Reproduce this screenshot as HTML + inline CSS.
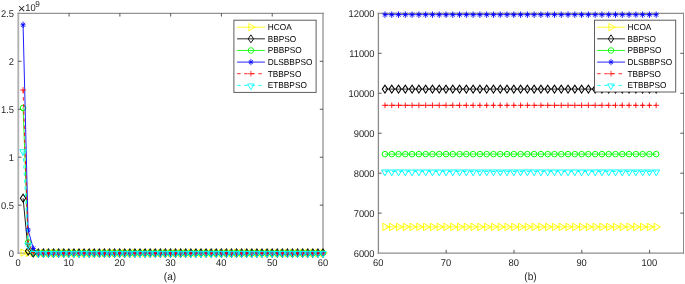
<!DOCTYPE html>
<html><head><meta charset="utf-8"><title>figure</title>
<style>html,body{margin:0;padding:0;background:#fff}svg{display:block}svg text{font-family:"Liberation Sans",sans-serif}</style></head>
<body>
<svg width="685" height="284" viewBox="0 0 685 284" text-rendering="geometricPrecision">
<rect width="685" height="284" fill="#fff"/>
<path d="M18.3 12.7V253.75" stroke="#b0b0b0" stroke-width="1.8" fill="none"/>
<path d="M323.0 12.7V253.75" stroke="#b0b0b0" stroke-width="1.8" fill="none"/>
<path d="M17.400000000000002 13.35H323.9" stroke="#949494" stroke-width="1.3" fill="none"/>
<path d="M17.400000000000002 253.1H323.9" stroke="#949494" stroke-width="1.3" fill="none"/>
<path d="M69.08 253.1v-3.2M69.08 13.35v3.2M119.87 253.1v-3.2M119.87 13.35v3.2M170.65 253.1v-3.2M170.65 13.35v3.2M221.43 253.1v-3.2M221.43 13.35v3.2M272.22 253.1v-3.2M272.22 13.35v3.2M18.3 205.15h3.2M323.0 205.15h-3.2M18.3 157.20h3.2M323.0 157.20h-3.2M18.3 109.25h3.2M323.0 109.25h-3.2M18.3 61.30h3.2M323.0 61.30h-3.2" stroke="#3a3a3a" stroke-width="0.85" fill="none"/>
<text transform="translate(18.00 266.25) scale(0.955 1)" font-size="9.8" text-anchor="middle" fill="#262626">0</text>
<text transform="translate(68.83 266.25) scale(0.955 1)" font-size="9.8" text-anchor="middle" fill="#262626">10</text>
<text transform="translate(119.67 266.25) scale(0.955 1)" font-size="9.8" text-anchor="middle" fill="#262626">20</text>
<text transform="translate(170.50 266.25) scale(0.955 1)" font-size="9.8" text-anchor="middle" fill="#262626">30</text>
<text transform="translate(221.33 266.25) scale(0.955 1)" font-size="9.8" text-anchor="middle" fill="#262626">40</text>
<text transform="translate(272.17 266.25) scale(0.955 1)" font-size="9.8" text-anchor="middle" fill="#262626">50</text>
<text transform="translate(323.00 266.25) scale(0.955 1)" font-size="9.8" text-anchor="middle" fill="#262626">60</text>
<text transform="translate(14.00 256.50) scale(0.955 1)" font-size="9.8" text-anchor="end" fill="#262626">0</text>
<text transform="translate(14.00 208.50) scale(0.955 1)" font-size="9.8" text-anchor="end" fill="#262626">0.5</text>
<text transform="translate(14.00 160.50) scale(0.955 1)" font-size="9.8" text-anchor="end" fill="#262626">1</text>
<text transform="translate(14.00 112.50) scale(0.955 1)" font-size="9.8" text-anchor="end" fill="#262626">1.5</text>
<text transform="translate(14.00 64.50) scale(0.955 1)" font-size="9.8" text-anchor="end" fill="#262626">2</text>
<text transform="translate(14.00 16.50) scale(0.955 1)" font-size="9.8" text-anchor="end" fill="#262626">2.5</text>
<text transform="translate(17.80 12.90) scale(1.0 1)" font-size="13.2" text-anchor="start" fill="#262626">×</text>
<text transform="translate(25.20 11.20) scale(0.955 1)" font-size="9.8" text-anchor="start" fill="#262626">10</text>
<text transform="translate(35.30 6.60) scale(0.955 1)" font-size="8.6" text-anchor="start" fill="#262626">9</text>
<text transform="translate(170.00 280.00) scale(0.955 1)" font-size="10.6" text-anchor="middle" fill="#262626">(a)</text>
<path d="M23.08 252.62L28.17 252.81L33.25 252.90L38.33 253.00L43.42 253.00L48.50 253.00L53.58 253.00L58.67 253.00L63.75 253.00L68.83 253.00L73.92 253.00L79.00 253.00L84.08 253.00L89.17 253.00L94.25 253.00L99.33 253.00L104.42 253.00L109.50 253.00L114.58 253.00L119.67 253.00L124.75 253.00L129.83 253.00L134.92 253.00L140.00 253.00L145.08 253.00L150.17 253.00L155.25 253.00L160.33 253.00L165.42 253.00L170.50 253.00L175.58 253.00L180.67 253.00L185.75 253.00L190.83 253.00L195.92 253.00L201.00 253.00L206.08 253.00L211.17 253.00L216.25 253.00L221.33 253.00L226.42 253.00L231.50 253.00L236.58 253.00L241.67 253.00L246.75 253.00L251.83 253.00L256.92 253.00L262.00 253.00L267.08 253.00L272.17 253.00L277.25 253.00L282.33 253.00L287.42 253.00L292.50 253.00L297.58 253.00L302.67 253.00L307.75 253.00L312.83 253.00L317.92 253.00L323.00 253.00" stroke="#ffff00" stroke-width="0.88" fill="none" stroke-linejoin="round"/>
<path d="M20.98 248.92L27.28 252.62L20.98 256.32Z" fill="none" stroke="#ffff00" stroke-width="0.98"/>
<path d="M26.07 249.11L32.37 252.81L26.07 256.51Z" fill="none" stroke="#ffff00" stroke-width="0.98"/>
<path d="M31.15 249.20L37.45 252.90L31.15 256.60Z" fill="none" stroke="#ffff00" stroke-width="0.98"/>
<path d="M36.23 249.30L42.53 253.00L36.23 256.70Z" fill="none" stroke="#ffff00" stroke-width="0.98"/>
<path d="M41.32 249.30L47.62 253.00L41.32 256.70Z" fill="none" stroke="#ffff00" stroke-width="0.98"/>
<path d="M46.40 249.30L52.70 253.00L46.40 256.70Z" fill="none" stroke="#ffff00" stroke-width="0.98"/>
<path d="M51.48 249.30L57.78 253.00L51.48 256.70Z" fill="none" stroke="#ffff00" stroke-width="0.98"/>
<path d="M56.57 249.30L62.87 253.00L56.57 256.70Z" fill="none" stroke="#ffff00" stroke-width="0.98"/>
<path d="M61.65 249.30L67.95 253.00L61.65 256.70Z" fill="none" stroke="#ffff00" stroke-width="0.98"/>
<path d="M66.73 249.30L73.03 253.00L66.73 256.70Z" fill="none" stroke="#ffff00" stroke-width="0.98"/>
<path d="M71.82 249.30L78.12 253.00L71.82 256.70Z" fill="none" stroke="#ffff00" stroke-width="0.98"/>
<path d="M76.90 249.30L83.20 253.00L76.90 256.70Z" fill="none" stroke="#ffff00" stroke-width="0.98"/>
<path d="M81.98 249.30L88.28 253.00L81.98 256.70Z" fill="none" stroke="#ffff00" stroke-width="0.98"/>
<path d="M87.07 249.30L93.37 253.00L87.07 256.70Z" fill="none" stroke="#ffff00" stroke-width="0.98"/>
<path d="M92.15 249.30L98.45 253.00L92.15 256.70Z" fill="none" stroke="#ffff00" stroke-width="0.98"/>
<path d="M97.23 249.30L103.53 253.00L97.23 256.70Z" fill="none" stroke="#ffff00" stroke-width="0.98"/>
<path d="M102.32 249.30L108.62 253.00L102.32 256.70Z" fill="none" stroke="#ffff00" stroke-width="0.98"/>
<path d="M107.40 249.30L113.70 253.00L107.40 256.70Z" fill="none" stroke="#ffff00" stroke-width="0.98"/>
<path d="M112.48 249.30L118.78 253.00L112.48 256.70Z" fill="none" stroke="#ffff00" stroke-width="0.98"/>
<path d="M117.57 249.30L123.87 253.00L117.57 256.70Z" fill="none" stroke="#ffff00" stroke-width="0.98"/>
<path d="M122.65 249.30L128.95 253.00L122.65 256.70Z" fill="none" stroke="#ffff00" stroke-width="0.98"/>
<path d="M127.73 249.30L134.03 253.00L127.73 256.70Z" fill="none" stroke="#ffff00" stroke-width="0.98"/>
<path d="M132.82 249.30L139.12 253.00L132.82 256.70Z" fill="none" stroke="#ffff00" stroke-width="0.98"/>
<path d="M137.90 249.30L144.20 253.00L137.90 256.70Z" fill="none" stroke="#ffff00" stroke-width="0.98"/>
<path d="M142.98 249.30L149.28 253.00L142.98 256.70Z" fill="none" stroke="#ffff00" stroke-width="0.98"/>
<path d="M148.07 249.30L154.37 253.00L148.07 256.70Z" fill="none" stroke="#ffff00" stroke-width="0.98"/>
<path d="M153.15 249.30L159.45 253.00L153.15 256.70Z" fill="none" stroke="#ffff00" stroke-width="0.98"/>
<path d="M158.23 249.30L164.53 253.00L158.23 256.70Z" fill="none" stroke="#ffff00" stroke-width="0.98"/>
<path d="M163.32 249.30L169.62 253.00L163.32 256.70Z" fill="none" stroke="#ffff00" stroke-width="0.98"/>
<path d="M168.40 249.30L174.70 253.00L168.40 256.70Z" fill="none" stroke="#ffff00" stroke-width="0.98"/>
<path d="M173.48 249.30L179.78 253.00L173.48 256.70Z" fill="none" stroke="#ffff00" stroke-width="0.98"/>
<path d="M178.57 249.30L184.87 253.00L178.57 256.70Z" fill="none" stroke="#ffff00" stroke-width="0.98"/>
<path d="M183.65 249.30L189.95 253.00L183.65 256.70Z" fill="none" stroke="#ffff00" stroke-width="0.98"/>
<path d="M188.73 249.30L195.03 253.00L188.73 256.70Z" fill="none" stroke="#ffff00" stroke-width="0.98"/>
<path d="M193.82 249.30L200.12 253.00L193.82 256.70Z" fill="none" stroke="#ffff00" stroke-width="0.98"/>
<path d="M198.90 249.30L205.20 253.00L198.90 256.70Z" fill="none" stroke="#ffff00" stroke-width="0.98"/>
<path d="M203.98 249.30L210.28 253.00L203.98 256.70Z" fill="none" stroke="#ffff00" stroke-width="0.98"/>
<path d="M209.07 249.30L215.37 253.00L209.07 256.70Z" fill="none" stroke="#ffff00" stroke-width="0.98"/>
<path d="M214.15 249.30L220.45 253.00L214.15 256.70Z" fill="none" stroke="#ffff00" stroke-width="0.98"/>
<path d="M219.23 249.30L225.53 253.00L219.23 256.70Z" fill="none" stroke="#ffff00" stroke-width="0.98"/>
<path d="M224.32 249.30L230.62 253.00L224.32 256.70Z" fill="none" stroke="#ffff00" stroke-width="0.98"/>
<path d="M229.40 249.30L235.70 253.00L229.40 256.70Z" fill="none" stroke="#ffff00" stroke-width="0.98"/>
<path d="M234.48 249.30L240.78 253.00L234.48 256.70Z" fill="none" stroke="#ffff00" stroke-width="0.98"/>
<path d="M239.57 249.30L245.87 253.00L239.57 256.70Z" fill="none" stroke="#ffff00" stroke-width="0.98"/>
<path d="M244.65 249.30L250.95 253.00L244.65 256.70Z" fill="none" stroke="#ffff00" stroke-width="0.98"/>
<path d="M249.73 249.30L256.03 253.00L249.73 256.70Z" fill="none" stroke="#ffff00" stroke-width="0.98"/>
<path d="M254.82 249.30L261.12 253.00L254.82 256.70Z" fill="none" stroke="#ffff00" stroke-width="0.98"/>
<path d="M259.90 249.30L266.20 253.00L259.90 256.70Z" fill="none" stroke="#ffff00" stroke-width="0.98"/>
<path d="M264.98 249.30L271.28 253.00L264.98 256.70Z" fill="none" stroke="#ffff00" stroke-width="0.98"/>
<path d="M270.07 249.30L276.37 253.00L270.07 256.70Z" fill="none" stroke="#ffff00" stroke-width="0.98"/>
<path d="M275.15 249.30L281.45 253.00L275.15 256.70Z" fill="none" stroke="#ffff00" stroke-width="0.98"/>
<path d="M280.23 249.30L286.53 253.00L280.23 256.70Z" fill="none" stroke="#ffff00" stroke-width="0.98"/>
<path d="M285.32 249.30L291.62 253.00L285.32 256.70Z" fill="none" stroke="#ffff00" stroke-width="0.98"/>
<path d="M290.40 249.30L296.70 253.00L290.40 256.70Z" fill="none" stroke="#ffff00" stroke-width="0.98"/>
<path d="M295.48 249.30L301.78 253.00L295.48 256.70Z" fill="none" stroke="#ffff00" stroke-width="0.98"/>
<path d="M300.57 249.30L306.87 253.00L300.57 256.70Z" fill="none" stroke="#ffff00" stroke-width="0.98"/>
<path d="M305.65 249.30L311.95 253.00L305.65 256.70Z" fill="none" stroke="#ffff00" stroke-width="0.98"/>
<path d="M310.73 249.30L317.03 253.00L310.73 256.70Z" fill="none" stroke="#ffff00" stroke-width="0.98"/>
<path d="M315.82 249.30L322.12 253.00L315.82 256.70Z" fill="none" stroke="#ffff00" stroke-width="0.98"/>
<path d="M320.90 249.30L327.20 253.00L320.90 256.70Z" fill="none" stroke="#ffff00" stroke-width="0.98"/>
<path d="M23.08 198.18L28.17 251.08L33.25 252.62L38.33 253.00L43.42 253.00L48.50 253.00L53.58 253.00L58.67 253.00L63.75 253.00L68.83 253.00L73.92 253.00L79.00 253.00L84.08 253.00L89.17 253.00L94.25 253.00L99.33 253.00L104.42 253.00L109.50 253.00L114.58 253.00L119.67 253.00L124.75 253.00L129.83 253.00L134.92 253.00L140.00 253.00L145.08 253.00L150.17 253.00L155.25 253.00L160.33 253.00L165.42 253.00L170.50 253.00L175.58 253.00L180.67 253.00L185.75 253.00L190.83 253.00L195.92 253.00L201.00 253.00L206.08 253.00L211.17 253.00L216.25 253.00L221.33 253.00L226.42 253.00L231.50 253.00L236.58 253.00L241.67 253.00L246.75 253.00L251.83 253.00L256.92 253.00L262.00 253.00L267.08 253.00L272.17 253.00L277.25 253.00L282.33 253.00L287.42 253.00L292.50 253.00L297.58 253.00L302.67 253.00L307.75 253.00L312.83 253.00L317.92 253.00L323.00 253.00" stroke="#000000" stroke-width="0.88" fill="none" stroke-linejoin="round"/>
<path d="M20.38 198.18L23.08 194.18L25.78 198.18L23.08 202.18Z" fill="none" stroke="#000000" stroke-width="1.0388"/>
<path d="M25.47 251.08L28.17 247.08L30.87 251.08L28.17 255.08Z" fill="none" stroke="#000000" stroke-width="1.0388"/>
<path d="M30.55 252.62L33.25 248.62L35.95 252.62L33.25 256.62Z" fill="none" stroke="#000000" stroke-width="1.0388"/>
<path d="M35.63 253.00L38.33 249.00L41.03 253.00L38.33 257.00Z" fill="none" stroke="#000000" stroke-width="1.0388"/>
<path d="M40.72 253.00L43.42 249.00L46.12 253.00L43.42 257.00Z" fill="none" stroke="#000000" stroke-width="1.0388"/>
<path d="M45.80 253.00L48.50 249.00L51.20 253.00L48.50 257.00Z" fill="none" stroke="#000000" stroke-width="1.0388"/>
<path d="M50.88 253.00L53.58 249.00L56.28 253.00L53.58 257.00Z" fill="none" stroke="#000000" stroke-width="1.0388"/>
<path d="M55.97 253.00L58.67 249.00L61.37 253.00L58.67 257.00Z" fill="none" stroke="#000000" stroke-width="1.0388"/>
<path d="M61.05 253.00L63.75 249.00L66.45 253.00L63.75 257.00Z" fill="none" stroke="#000000" stroke-width="1.0388"/>
<path d="M66.13 253.00L68.83 249.00L71.53 253.00L68.83 257.00Z" fill="none" stroke="#000000" stroke-width="1.0388"/>
<path d="M71.22 253.00L73.92 249.00L76.62 253.00L73.92 257.00Z" fill="none" stroke="#000000" stroke-width="1.0388"/>
<path d="M76.30 253.00L79.00 249.00L81.70 253.00L79.00 257.00Z" fill="none" stroke="#000000" stroke-width="1.0388"/>
<path d="M81.38 253.00L84.08 249.00L86.78 253.00L84.08 257.00Z" fill="none" stroke="#000000" stroke-width="1.0388"/>
<path d="M86.47 253.00L89.17 249.00L91.87 253.00L89.17 257.00Z" fill="none" stroke="#000000" stroke-width="1.0388"/>
<path d="M91.55 253.00L94.25 249.00L96.95 253.00L94.25 257.00Z" fill="none" stroke="#000000" stroke-width="1.0388"/>
<path d="M96.63 253.00L99.33 249.00L102.03 253.00L99.33 257.00Z" fill="none" stroke="#000000" stroke-width="1.0388"/>
<path d="M101.72 253.00L104.42 249.00L107.12 253.00L104.42 257.00Z" fill="none" stroke="#000000" stroke-width="1.0388"/>
<path d="M106.80 253.00L109.50 249.00L112.20 253.00L109.50 257.00Z" fill="none" stroke="#000000" stroke-width="1.0388"/>
<path d="M111.88 253.00L114.58 249.00L117.28 253.00L114.58 257.00Z" fill="none" stroke="#000000" stroke-width="1.0388"/>
<path d="M116.97 253.00L119.67 249.00L122.37 253.00L119.67 257.00Z" fill="none" stroke="#000000" stroke-width="1.0388"/>
<path d="M122.05 253.00L124.75 249.00L127.45 253.00L124.75 257.00Z" fill="none" stroke="#000000" stroke-width="1.0388"/>
<path d="M127.13 253.00L129.83 249.00L132.53 253.00L129.83 257.00Z" fill="none" stroke="#000000" stroke-width="1.0388"/>
<path d="M132.22 253.00L134.92 249.00L137.62 253.00L134.92 257.00Z" fill="none" stroke="#000000" stroke-width="1.0388"/>
<path d="M137.30 253.00L140.00 249.00L142.70 253.00L140.00 257.00Z" fill="none" stroke="#000000" stroke-width="1.0388"/>
<path d="M142.38 253.00L145.08 249.00L147.78 253.00L145.08 257.00Z" fill="none" stroke="#000000" stroke-width="1.0388"/>
<path d="M147.47 253.00L150.17 249.00L152.87 253.00L150.17 257.00Z" fill="none" stroke="#000000" stroke-width="1.0388"/>
<path d="M152.55 253.00L155.25 249.00L157.95 253.00L155.25 257.00Z" fill="none" stroke="#000000" stroke-width="1.0388"/>
<path d="M157.63 253.00L160.33 249.00L163.03 253.00L160.33 257.00Z" fill="none" stroke="#000000" stroke-width="1.0388"/>
<path d="M162.72 253.00L165.42 249.00L168.12 253.00L165.42 257.00Z" fill="none" stroke="#000000" stroke-width="1.0388"/>
<path d="M167.80 253.00L170.50 249.00L173.20 253.00L170.50 257.00Z" fill="none" stroke="#000000" stroke-width="1.0388"/>
<path d="M172.88 253.00L175.58 249.00L178.28 253.00L175.58 257.00Z" fill="none" stroke="#000000" stroke-width="1.0388"/>
<path d="M177.97 253.00L180.67 249.00L183.37 253.00L180.67 257.00Z" fill="none" stroke="#000000" stroke-width="1.0388"/>
<path d="M183.05 253.00L185.75 249.00L188.45 253.00L185.75 257.00Z" fill="none" stroke="#000000" stroke-width="1.0388"/>
<path d="M188.13 253.00L190.83 249.00L193.53 253.00L190.83 257.00Z" fill="none" stroke="#000000" stroke-width="1.0388"/>
<path d="M193.22 253.00L195.92 249.00L198.62 253.00L195.92 257.00Z" fill="none" stroke="#000000" stroke-width="1.0388"/>
<path d="M198.30 253.00L201.00 249.00L203.70 253.00L201.00 257.00Z" fill="none" stroke="#000000" stroke-width="1.0388"/>
<path d="M203.38 253.00L206.08 249.00L208.78 253.00L206.08 257.00Z" fill="none" stroke="#000000" stroke-width="1.0388"/>
<path d="M208.47 253.00L211.17 249.00L213.87 253.00L211.17 257.00Z" fill="none" stroke="#000000" stroke-width="1.0388"/>
<path d="M213.55 253.00L216.25 249.00L218.95 253.00L216.25 257.00Z" fill="none" stroke="#000000" stroke-width="1.0388"/>
<path d="M218.63 253.00L221.33 249.00L224.03 253.00L221.33 257.00Z" fill="none" stroke="#000000" stroke-width="1.0388"/>
<path d="M223.72 253.00L226.42 249.00L229.12 253.00L226.42 257.00Z" fill="none" stroke="#000000" stroke-width="1.0388"/>
<path d="M228.80 253.00L231.50 249.00L234.20 253.00L231.50 257.00Z" fill="none" stroke="#000000" stroke-width="1.0388"/>
<path d="M233.88 253.00L236.58 249.00L239.28 253.00L236.58 257.00Z" fill="none" stroke="#000000" stroke-width="1.0388"/>
<path d="M238.97 253.00L241.67 249.00L244.37 253.00L241.67 257.00Z" fill="none" stroke="#000000" stroke-width="1.0388"/>
<path d="M244.05 253.00L246.75 249.00L249.45 253.00L246.75 257.00Z" fill="none" stroke="#000000" stroke-width="1.0388"/>
<path d="M249.13 253.00L251.83 249.00L254.53 253.00L251.83 257.00Z" fill="none" stroke="#000000" stroke-width="1.0388"/>
<path d="M254.22 253.00L256.92 249.00L259.62 253.00L256.92 257.00Z" fill="none" stroke="#000000" stroke-width="1.0388"/>
<path d="M259.30 253.00L262.00 249.00L264.70 253.00L262.00 257.00Z" fill="none" stroke="#000000" stroke-width="1.0388"/>
<path d="M264.38 253.00L267.08 249.00L269.78 253.00L267.08 257.00Z" fill="none" stroke="#000000" stroke-width="1.0388"/>
<path d="M269.47 253.00L272.17 249.00L274.87 253.00L272.17 257.00Z" fill="none" stroke="#000000" stroke-width="1.0388"/>
<path d="M274.55 253.00L277.25 249.00L279.95 253.00L277.25 257.00Z" fill="none" stroke="#000000" stroke-width="1.0388"/>
<path d="M279.63 253.00L282.33 249.00L285.03 253.00L282.33 257.00Z" fill="none" stroke="#000000" stroke-width="1.0388"/>
<path d="M284.72 253.00L287.42 249.00L290.12 253.00L287.42 257.00Z" fill="none" stroke="#000000" stroke-width="1.0388"/>
<path d="M289.80 253.00L292.50 249.00L295.20 253.00L292.50 257.00Z" fill="none" stroke="#000000" stroke-width="1.0388"/>
<path d="M294.88 253.00L297.58 249.00L300.28 253.00L297.58 257.00Z" fill="none" stroke="#000000" stroke-width="1.0388"/>
<path d="M299.97 253.00L302.67 249.00L305.37 253.00L302.67 257.00Z" fill="none" stroke="#000000" stroke-width="1.0388"/>
<path d="M305.05 253.00L307.75 249.00L310.45 253.00L307.75 257.00Z" fill="none" stroke="#000000" stroke-width="1.0388"/>
<path d="M310.13 253.00L312.83 249.00L315.53 253.00L312.83 257.00Z" fill="none" stroke="#000000" stroke-width="1.0388"/>
<path d="M315.22 253.00L317.92 249.00L320.62 253.00L317.92 257.00Z" fill="none" stroke="#000000" stroke-width="1.0388"/>
<path d="M320.30 253.00L323.00 249.00L325.70 253.00L323.00 257.00Z" fill="none" stroke="#000000" stroke-width="1.0388"/>
<path d="M23.08 107.94L28.17 242.34L33.25 252.62L38.33 253.00L43.42 253.00L48.50 253.00L53.58 253.00L58.67 253.00L63.75 253.00L68.83 253.00L73.92 253.00L79.00 253.00L84.08 253.00L89.17 253.00L94.25 253.00L99.33 253.00L104.42 253.00L109.50 253.00L114.58 253.00L119.67 253.00L124.75 253.00L129.83 253.00L134.92 253.00L140.00 253.00L145.08 253.00L150.17 253.00L155.25 253.00L160.33 253.00L165.42 253.00L170.50 253.00L175.58 253.00L180.67 253.00L185.75 253.00L190.83 253.00L195.92 253.00L201.00 253.00L206.08 253.00L211.17 253.00L216.25 253.00L221.33 253.00L226.42 253.00L231.50 253.00L236.58 253.00L241.67 253.00L246.75 253.00L251.83 253.00L256.92 253.00L262.00 253.00L267.08 253.00L272.17 253.00L277.25 253.00L282.33 253.00L287.42 253.00L292.50 253.00L297.58 253.00L302.67 253.00L307.75 253.00L312.83 253.00L317.92 253.00L323.00 253.00" stroke="#00ff00" stroke-width="0.88" fill="none" stroke-linejoin="round"/>
<circle cx="23.08" cy="107.94" r="2.80" fill="none" stroke="#00ff00" stroke-width="0.98"/>
<circle cx="28.17" cy="242.34" r="2.80" fill="none" stroke="#00ff00" stroke-width="0.98"/>
<circle cx="33.25" cy="252.62" r="2.80" fill="none" stroke="#00ff00" stroke-width="0.98"/>
<circle cx="38.33" cy="253.00" r="2.80" fill="none" stroke="#00ff00" stroke-width="0.98"/>
<circle cx="43.42" cy="253.00" r="2.80" fill="none" stroke="#00ff00" stroke-width="0.98"/>
<circle cx="48.50" cy="253.00" r="2.80" fill="none" stroke="#00ff00" stroke-width="0.98"/>
<circle cx="53.58" cy="253.00" r="2.80" fill="none" stroke="#00ff00" stroke-width="0.98"/>
<circle cx="58.67" cy="253.00" r="2.80" fill="none" stroke="#00ff00" stroke-width="0.98"/>
<circle cx="63.75" cy="253.00" r="2.80" fill="none" stroke="#00ff00" stroke-width="0.98"/>
<circle cx="68.83" cy="253.00" r="2.80" fill="none" stroke="#00ff00" stroke-width="0.98"/>
<circle cx="73.92" cy="253.00" r="2.80" fill="none" stroke="#00ff00" stroke-width="0.98"/>
<circle cx="79.00" cy="253.00" r="2.80" fill="none" stroke="#00ff00" stroke-width="0.98"/>
<circle cx="84.08" cy="253.00" r="2.80" fill="none" stroke="#00ff00" stroke-width="0.98"/>
<circle cx="89.17" cy="253.00" r="2.80" fill="none" stroke="#00ff00" stroke-width="0.98"/>
<circle cx="94.25" cy="253.00" r="2.80" fill="none" stroke="#00ff00" stroke-width="0.98"/>
<circle cx="99.33" cy="253.00" r="2.80" fill="none" stroke="#00ff00" stroke-width="0.98"/>
<circle cx="104.42" cy="253.00" r="2.80" fill="none" stroke="#00ff00" stroke-width="0.98"/>
<circle cx="109.50" cy="253.00" r="2.80" fill="none" stroke="#00ff00" stroke-width="0.98"/>
<circle cx="114.58" cy="253.00" r="2.80" fill="none" stroke="#00ff00" stroke-width="0.98"/>
<circle cx="119.67" cy="253.00" r="2.80" fill="none" stroke="#00ff00" stroke-width="0.98"/>
<circle cx="124.75" cy="253.00" r="2.80" fill="none" stroke="#00ff00" stroke-width="0.98"/>
<circle cx="129.83" cy="253.00" r="2.80" fill="none" stroke="#00ff00" stroke-width="0.98"/>
<circle cx="134.92" cy="253.00" r="2.80" fill="none" stroke="#00ff00" stroke-width="0.98"/>
<circle cx="140.00" cy="253.00" r="2.80" fill="none" stroke="#00ff00" stroke-width="0.98"/>
<circle cx="145.08" cy="253.00" r="2.80" fill="none" stroke="#00ff00" stroke-width="0.98"/>
<circle cx="150.17" cy="253.00" r="2.80" fill="none" stroke="#00ff00" stroke-width="0.98"/>
<circle cx="155.25" cy="253.00" r="2.80" fill="none" stroke="#00ff00" stroke-width="0.98"/>
<circle cx="160.33" cy="253.00" r="2.80" fill="none" stroke="#00ff00" stroke-width="0.98"/>
<circle cx="165.42" cy="253.00" r="2.80" fill="none" stroke="#00ff00" stroke-width="0.98"/>
<circle cx="170.50" cy="253.00" r="2.80" fill="none" stroke="#00ff00" stroke-width="0.98"/>
<circle cx="175.58" cy="253.00" r="2.80" fill="none" stroke="#00ff00" stroke-width="0.98"/>
<circle cx="180.67" cy="253.00" r="2.80" fill="none" stroke="#00ff00" stroke-width="0.98"/>
<circle cx="185.75" cy="253.00" r="2.80" fill="none" stroke="#00ff00" stroke-width="0.98"/>
<circle cx="190.83" cy="253.00" r="2.80" fill="none" stroke="#00ff00" stroke-width="0.98"/>
<circle cx="195.92" cy="253.00" r="2.80" fill="none" stroke="#00ff00" stroke-width="0.98"/>
<circle cx="201.00" cy="253.00" r="2.80" fill="none" stroke="#00ff00" stroke-width="0.98"/>
<circle cx="206.08" cy="253.00" r="2.80" fill="none" stroke="#00ff00" stroke-width="0.98"/>
<circle cx="211.17" cy="253.00" r="2.80" fill="none" stroke="#00ff00" stroke-width="0.98"/>
<circle cx="216.25" cy="253.00" r="2.80" fill="none" stroke="#00ff00" stroke-width="0.98"/>
<circle cx="221.33" cy="253.00" r="2.80" fill="none" stroke="#00ff00" stroke-width="0.98"/>
<circle cx="226.42" cy="253.00" r="2.80" fill="none" stroke="#00ff00" stroke-width="0.98"/>
<circle cx="231.50" cy="253.00" r="2.80" fill="none" stroke="#00ff00" stroke-width="0.98"/>
<circle cx="236.58" cy="253.00" r="2.80" fill="none" stroke="#00ff00" stroke-width="0.98"/>
<circle cx="241.67" cy="253.00" r="2.80" fill="none" stroke="#00ff00" stroke-width="0.98"/>
<circle cx="246.75" cy="253.00" r="2.80" fill="none" stroke="#00ff00" stroke-width="0.98"/>
<circle cx="251.83" cy="253.00" r="2.80" fill="none" stroke="#00ff00" stroke-width="0.98"/>
<circle cx="256.92" cy="253.00" r="2.80" fill="none" stroke="#00ff00" stroke-width="0.98"/>
<circle cx="262.00" cy="253.00" r="2.80" fill="none" stroke="#00ff00" stroke-width="0.98"/>
<circle cx="267.08" cy="253.00" r="2.80" fill="none" stroke="#00ff00" stroke-width="0.98"/>
<circle cx="272.17" cy="253.00" r="2.80" fill="none" stroke="#00ff00" stroke-width="0.98"/>
<circle cx="277.25" cy="253.00" r="2.80" fill="none" stroke="#00ff00" stroke-width="0.98"/>
<circle cx="282.33" cy="253.00" r="2.80" fill="none" stroke="#00ff00" stroke-width="0.98"/>
<circle cx="287.42" cy="253.00" r="2.80" fill="none" stroke="#00ff00" stroke-width="0.98"/>
<circle cx="292.50" cy="253.00" r="2.80" fill="none" stroke="#00ff00" stroke-width="0.98"/>
<circle cx="297.58" cy="253.00" r="2.80" fill="none" stroke="#00ff00" stroke-width="0.98"/>
<circle cx="302.67" cy="253.00" r="2.80" fill="none" stroke="#00ff00" stroke-width="0.98"/>
<circle cx="307.75" cy="253.00" r="2.80" fill="none" stroke="#00ff00" stroke-width="0.98"/>
<circle cx="312.83" cy="253.00" r="2.80" fill="none" stroke="#00ff00" stroke-width="0.98"/>
<circle cx="317.92" cy="253.00" r="2.80" fill="none" stroke="#00ff00" stroke-width="0.98"/>
<circle cx="323.00" cy="253.00" r="2.80" fill="none" stroke="#00ff00" stroke-width="0.98"/>
<path d="M23.08 24.81L28.17 230.06L33.25 248.49L38.33 253.00L43.42 253.00L48.50 253.00L53.58 253.00L58.67 253.00L63.75 253.00L68.83 253.00L73.92 253.00L79.00 253.00L84.08 253.00L89.17 253.00L94.25 253.00L99.33 253.00L104.42 253.00L109.50 253.00L114.58 253.00L119.67 253.00L124.75 253.00L129.83 253.00L134.92 253.00L140.00 253.00L145.08 253.00L150.17 253.00L155.25 253.00L160.33 253.00L165.42 253.00L170.50 253.00L175.58 253.00L180.67 253.00L185.75 253.00L190.83 253.00L195.92 253.00L201.00 253.00L206.08 253.00L211.17 253.00L216.25 253.00L221.33 253.00L226.42 253.00L231.50 253.00L236.58 253.00L241.67 253.00L246.75 253.00L251.83 253.00L256.92 253.00L262.00 253.00L267.08 253.00L272.17 253.00L277.25 253.00L282.33 253.00L287.42 253.00L292.50 253.00L297.58 253.00L302.67 253.00L307.75 253.00L312.83 253.00L317.92 253.00L323.00 253.00" stroke="#0000ff" stroke-width="0.88" fill="none" stroke-linejoin="round"/>
<path d="M20.58 24.81H25.58M23.08 21.61V28.01M21.08 22.81L25.08 26.81M21.08 26.81L25.08 22.81" fill="none" stroke="#0000ff" stroke-width="0.90"/>
<path d="M25.67 230.06H30.67M28.17 226.86V233.26M26.17 228.06L30.17 232.06M26.17 232.06L30.17 228.06" fill="none" stroke="#0000ff" stroke-width="0.90"/>
<path d="M30.75 248.49H35.75M33.25 245.29V251.69M31.25 246.49L35.25 250.49M31.25 250.49L35.25 246.49" fill="none" stroke="#0000ff" stroke-width="0.90"/>
<path d="M35.83 253.00H40.83M38.33 249.80V256.20M36.33 251.00L40.33 255.00M36.33 255.00L40.33 251.00" fill="none" stroke="#0000ff" stroke-width="0.90"/>
<path d="M40.92 253.00H45.92M43.42 249.80V256.20M41.42 251.00L45.42 255.00M41.42 255.00L45.42 251.00" fill="none" stroke="#0000ff" stroke-width="0.90"/>
<path d="M46.00 253.00H51.00M48.50 249.80V256.20M46.50 251.00L50.50 255.00M46.50 255.00L50.50 251.00" fill="none" stroke="#0000ff" stroke-width="0.90"/>
<path d="M51.08 253.00H56.08M53.58 249.80V256.20M51.58 251.00L55.58 255.00M51.58 255.00L55.58 251.00" fill="none" stroke="#0000ff" stroke-width="0.90"/>
<path d="M56.17 253.00H61.17M58.67 249.80V256.20M56.67 251.00L60.67 255.00M56.67 255.00L60.67 251.00" fill="none" stroke="#0000ff" stroke-width="0.90"/>
<path d="M61.25 253.00H66.25M63.75 249.80V256.20M61.75 251.00L65.75 255.00M61.75 255.00L65.75 251.00" fill="none" stroke="#0000ff" stroke-width="0.90"/>
<path d="M66.33 253.00H71.33M68.83 249.80V256.20M66.83 251.00L70.83 255.00M66.83 255.00L70.83 251.00" fill="none" stroke="#0000ff" stroke-width="0.90"/>
<path d="M71.42 253.00H76.42M73.92 249.80V256.20M71.92 251.00L75.92 255.00M71.92 255.00L75.92 251.00" fill="none" stroke="#0000ff" stroke-width="0.90"/>
<path d="M76.50 253.00H81.50M79.00 249.80V256.20M77.00 251.00L81.00 255.00M77.00 255.00L81.00 251.00" fill="none" stroke="#0000ff" stroke-width="0.90"/>
<path d="M81.58 253.00H86.58M84.08 249.80V256.20M82.08 251.00L86.08 255.00M82.08 255.00L86.08 251.00" fill="none" stroke="#0000ff" stroke-width="0.90"/>
<path d="M86.67 253.00H91.67M89.17 249.80V256.20M87.17 251.00L91.17 255.00M87.17 255.00L91.17 251.00" fill="none" stroke="#0000ff" stroke-width="0.90"/>
<path d="M91.75 253.00H96.75M94.25 249.80V256.20M92.25 251.00L96.25 255.00M92.25 255.00L96.25 251.00" fill="none" stroke="#0000ff" stroke-width="0.90"/>
<path d="M96.83 253.00H101.83M99.33 249.80V256.20M97.33 251.00L101.33 255.00M97.33 255.00L101.33 251.00" fill="none" stroke="#0000ff" stroke-width="0.90"/>
<path d="M101.92 253.00H106.92M104.42 249.80V256.20M102.42 251.00L106.42 255.00M102.42 255.00L106.42 251.00" fill="none" stroke="#0000ff" stroke-width="0.90"/>
<path d="M107.00 253.00H112.00M109.50 249.80V256.20M107.50 251.00L111.50 255.00M107.50 255.00L111.50 251.00" fill="none" stroke="#0000ff" stroke-width="0.90"/>
<path d="M112.08 253.00H117.08M114.58 249.80V256.20M112.58 251.00L116.58 255.00M112.58 255.00L116.58 251.00" fill="none" stroke="#0000ff" stroke-width="0.90"/>
<path d="M117.17 253.00H122.17M119.67 249.80V256.20M117.67 251.00L121.67 255.00M117.67 255.00L121.67 251.00" fill="none" stroke="#0000ff" stroke-width="0.90"/>
<path d="M122.25 253.00H127.25M124.75 249.80V256.20M122.75 251.00L126.75 255.00M122.75 255.00L126.75 251.00" fill="none" stroke="#0000ff" stroke-width="0.90"/>
<path d="M127.33 253.00H132.33M129.83 249.80V256.20M127.83 251.00L131.83 255.00M127.83 255.00L131.83 251.00" fill="none" stroke="#0000ff" stroke-width="0.90"/>
<path d="M132.42 253.00H137.42M134.92 249.80V256.20M132.92 251.00L136.92 255.00M132.92 255.00L136.92 251.00" fill="none" stroke="#0000ff" stroke-width="0.90"/>
<path d="M137.50 253.00H142.50M140.00 249.80V256.20M138.00 251.00L142.00 255.00M138.00 255.00L142.00 251.00" fill="none" stroke="#0000ff" stroke-width="0.90"/>
<path d="M142.58 253.00H147.58M145.08 249.80V256.20M143.08 251.00L147.08 255.00M143.08 255.00L147.08 251.00" fill="none" stroke="#0000ff" stroke-width="0.90"/>
<path d="M147.67 253.00H152.67M150.17 249.80V256.20M148.17 251.00L152.17 255.00M148.17 255.00L152.17 251.00" fill="none" stroke="#0000ff" stroke-width="0.90"/>
<path d="M152.75 253.00H157.75M155.25 249.80V256.20M153.25 251.00L157.25 255.00M153.25 255.00L157.25 251.00" fill="none" stroke="#0000ff" stroke-width="0.90"/>
<path d="M157.83 253.00H162.83M160.33 249.80V256.20M158.33 251.00L162.33 255.00M158.33 255.00L162.33 251.00" fill="none" stroke="#0000ff" stroke-width="0.90"/>
<path d="M162.92 253.00H167.92M165.42 249.80V256.20M163.42 251.00L167.42 255.00M163.42 255.00L167.42 251.00" fill="none" stroke="#0000ff" stroke-width="0.90"/>
<path d="M168.00 253.00H173.00M170.50 249.80V256.20M168.50 251.00L172.50 255.00M168.50 255.00L172.50 251.00" fill="none" stroke="#0000ff" stroke-width="0.90"/>
<path d="M173.08 253.00H178.08M175.58 249.80V256.20M173.58 251.00L177.58 255.00M173.58 255.00L177.58 251.00" fill="none" stroke="#0000ff" stroke-width="0.90"/>
<path d="M178.17 253.00H183.17M180.67 249.80V256.20M178.67 251.00L182.67 255.00M178.67 255.00L182.67 251.00" fill="none" stroke="#0000ff" stroke-width="0.90"/>
<path d="M183.25 253.00H188.25M185.75 249.80V256.20M183.75 251.00L187.75 255.00M183.75 255.00L187.75 251.00" fill="none" stroke="#0000ff" stroke-width="0.90"/>
<path d="M188.33 253.00H193.33M190.83 249.80V256.20M188.83 251.00L192.83 255.00M188.83 255.00L192.83 251.00" fill="none" stroke="#0000ff" stroke-width="0.90"/>
<path d="M193.42 253.00H198.42M195.92 249.80V256.20M193.92 251.00L197.92 255.00M193.92 255.00L197.92 251.00" fill="none" stroke="#0000ff" stroke-width="0.90"/>
<path d="M198.50 253.00H203.50M201.00 249.80V256.20M199.00 251.00L203.00 255.00M199.00 255.00L203.00 251.00" fill="none" stroke="#0000ff" stroke-width="0.90"/>
<path d="M203.58 253.00H208.58M206.08 249.80V256.20M204.08 251.00L208.08 255.00M204.08 255.00L208.08 251.00" fill="none" stroke="#0000ff" stroke-width="0.90"/>
<path d="M208.67 253.00H213.67M211.17 249.80V256.20M209.17 251.00L213.17 255.00M209.17 255.00L213.17 251.00" fill="none" stroke="#0000ff" stroke-width="0.90"/>
<path d="M213.75 253.00H218.75M216.25 249.80V256.20M214.25 251.00L218.25 255.00M214.25 255.00L218.25 251.00" fill="none" stroke="#0000ff" stroke-width="0.90"/>
<path d="M218.83 253.00H223.83M221.33 249.80V256.20M219.33 251.00L223.33 255.00M219.33 255.00L223.33 251.00" fill="none" stroke="#0000ff" stroke-width="0.90"/>
<path d="M223.92 253.00H228.92M226.42 249.80V256.20M224.42 251.00L228.42 255.00M224.42 255.00L228.42 251.00" fill="none" stroke="#0000ff" stroke-width="0.90"/>
<path d="M229.00 253.00H234.00M231.50 249.80V256.20M229.50 251.00L233.50 255.00M229.50 255.00L233.50 251.00" fill="none" stroke="#0000ff" stroke-width="0.90"/>
<path d="M234.08 253.00H239.08M236.58 249.80V256.20M234.58 251.00L238.58 255.00M234.58 255.00L238.58 251.00" fill="none" stroke="#0000ff" stroke-width="0.90"/>
<path d="M239.17 253.00H244.17M241.67 249.80V256.20M239.67 251.00L243.67 255.00M239.67 255.00L243.67 251.00" fill="none" stroke="#0000ff" stroke-width="0.90"/>
<path d="M244.25 253.00H249.25M246.75 249.80V256.20M244.75 251.00L248.75 255.00M244.75 255.00L248.75 251.00" fill="none" stroke="#0000ff" stroke-width="0.90"/>
<path d="M249.33 253.00H254.33M251.83 249.80V256.20M249.83 251.00L253.83 255.00M249.83 255.00L253.83 251.00" fill="none" stroke="#0000ff" stroke-width="0.90"/>
<path d="M254.42 253.00H259.42M256.92 249.80V256.20M254.92 251.00L258.92 255.00M254.92 255.00L258.92 251.00" fill="none" stroke="#0000ff" stroke-width="0.90"/>
<path d="M259.50 253.00H264.50M262.00 249.80V256.20M260.00 251.00L264.00 255.00M260.00 255.00L264.00 251.00" fill="none" stroke="#0000ff" stroke-width="0.90"/>
<path d="M264.58 253.00H269.58M267.08 249.80V256.20M265.08 251.00L269.08 255.00M265.08 255.00L269.08 251.00" fill="none" stroke="#0000ff" stroke-width="0.90"/>
<path d="M269.67 253.00H274.67M272.17 249.80V256.20M270.17 251.00L274.17 255.00M270.17 255.00L274.17 251.00" fill="none" stroke="#0000ff" stroke-width="0.90"/>
<path d="M274.75 253.00H279.75M277.25 249.80V256.20M275.25 251.00L279.25 255.00M275.25 255.00L279.25 251.00" fill="none" stroke="#0000ff" stroke-width="0.90"/>
<path d="M279.83 253.00H284.83M282.33 249.80V256.20M280.33 251.00L284.33 255.00M280.33 255.00L284.33 251.00" fill="none" stroke="#0000ff" stroke-width="0.90"/>
<path d="M284.92 253.00H289.92M287.42 249.80V256.20M285.42 251.00L289.42 255.00M285.42 255.00L289.42 251.00" fill="none" stroke="#0000ff" stroke-width="0.90"/>
<path d="M290.00 253.00H295.00M292.50 249.80V256.20M290.50 251.00L294.50 255.00M290.50 255.00L294.50 251.00" fill="none" stroke="#0000ff" stroke-width="0.90"/>
<path d="M295.08 253.00H300.08M297.58 249.80V256.20M295.58 251.00L299.58 255.00M295.58 255.00L299.58 251.00" fill="none" stroke="#0000ff" stroke-width="0.90"/>
<path d="M300.17 253.00H305.17M302.67 249.80V256.20M300.67 251.00L304.67 255.00M300.67 255.00L304.67 251.00" fill="none" stroke="#0000ff" stroke-width="0.90"/>
<path d="M305.25 253.00H310.25M307.75 249.80V256.20M305.75 251.00L309.75 255.00M305.75 255.00L309.75 251.00" fill="none" stroke="#0000ff" stroke-width="0.90"/>
<path d="M310.33 253.00H315.33M312.83 249.80V256.20M310.83 251.00L314.83 255.00M310.83 255.00L314.83 251.00" fill="none" stroke="#0000ff" stroke-width="0.90"/>
<path d="M315.42 253.00H320.42M317.92 249.80V256.20M315.92 251.00L319.92 255.00M315.92 255.00L319.92 251.00" fill="none" stroke="#0000ff" stroke-width="0.90"/>
<path d="M320.50 253.00H325.50M323.00 249.80V256.20M321.00 251.00L325.00 255.00M321.00 255.00L325.00 251.00" fill="none" stroke="#0000ff" stroke-width="0.90"/>
<path d="M23.08 89.99L28.17 243.88L33.25 252.62L38.33 253.00L43.42 253.00L48.50 253.00L53.58 253.00L58.67 253.00L63.75 253.00L68.83 253.00L73.92 253.00L79.00 253.00L84.08 253.00L89.17 253.00L94.25 253.00L99.33 253.00L104.42 253.00L109.50 253.00L114.58 253.00L119.67 253.00L124.75 253.00L129.83 253.00L134.92 253.00L140.00 253.00L145.08 253.00L150.17 253.00L155.25 253.00L160.33 253.00L165.42 253.00L170.50 253.00L175.58 253.00L180.67 253.00L185.75 253.00L190.83 253.00L195.92 253.00L201.00 253.00L206.08 253.00L211.17 253.00L216.25 253.00L221.33 253.00L226.42 253.00L231.50 253.00L236.58 253.00L241.67 253.00L246.75 253.00L251.83 253.00L256.92 253.00L262.00 253.00L267.08 253.00L272.17 253.00L277.25 253.00L282.33 253.00L287.42 253.00L292.50 253.00L297.58 253.00L302.67 253.00L307.75 253.00L312.83 253.00L317.92 253.00L323.00 253.00" stroke="#ff0000" stroke-width="0.88" stroke-dasharray="3.5 3.6" fill="none" stroke-linejoin="round"/>
<path d="M20.23 89.99H25.93M23.08 87.14V92.84" fill="none" stroke="#ff0000" stroke-width="0.8623999999999999"/>
<path d="M25.32 243.88H31.02M28.17 241.03V246.73" fill="none" stroke="#ff0000" stroke-width="0.8623999999999999"/>
<path d="M30.40 252.62H36.10M33.25 249.77V255.47" fill="none" stroke="#ff0000" stroke-width="0.8623999999999999"/>
<path d="M35.48 253.00H41.18M38.33 250.15V255.85" fill="none" stroke="#ff0000" stroke-width="0.8623999999999999"/>
<path d="M40.57 253.00H46.27M43.42 250.15V255.85" fill="none" stroke="#ff0000" stroke-width="0.8623999999999999"/>
<path d="M45.65 253.00H51.35M48.50 250.15V255.85" fill="none" stroke="#ff0000" stroke-width="0.8623999999999999"/>
<path d="M50.73 253.00H56.43M53.58 250.15V255.85" fill="none" stroke="#ff0000" stroke-width="0.8623999999999999"/>
<path d="M55.82 253.00H61.52M58.67 250.15V255.85" fill="none" stroke="#ff0000" stroke-width="0.8623999999999999"/>
<path d="M60.90 253.00H66.60M63.75 250.15V255.85" fill="none" stroke="#ff0000" stroke-width="0.8623999999999999"/>
<path d="M65.98 253.00H71.68M68.83 250.15V255.85" fill="none" stroke="#ff0000" stroke-width="0.8623999999999999"/>
<path d="M71.07 253.00H76.77M73.92 250.15V255.85" fill="none" stroke="#ff0000" stroke-width="0.8623999999999999"/>
<path d="M76.15 253.00H81.85M79.00 250.15V255.85" fill="none" stroke="#ff0000" stroke-width="0.8623999999999999"/>
<path d="M81.23 253.00H86.93M84.08 250.15V255.85" fill="none" stroke="#ff0000" stroke-width="0.8623999999999999"/>
<path d="M86.32 253.00H92.02M89.17 250.15V255.85" fill="none" stroke="#ff0000" stroke-width="0.8623999999999999"/>
<path d="M91.40 253.00H97.10M94.25 250.15V255.85" fill="none" stroke="#ff0000" stroke-width="0.8623999999999999"/>
<path d="M96.48 253.00H102.18M99.33 250.15V255.85" fill="none" stroke="#ff0000" stroke-width="0.8623999999999999"/>
<path d="M101.57 253.00H107.27M104.42 250.15V255.85" fill="none" stroke="#ff0000" stroke-width="0.8623999999999999"/>
<path d="M106.65 253.00H112.35M109.50 250.15V255.85" fill="none" stroke="#ff0000" stroke-width="0.8623999999999999"/>
<path d="M111.73 253.00H117.43M114.58 250.15V255.85" fill="none" stroke="#ff0000" stroke-width="0.8623999999999999"/>
<path d="M116.82 253.00H122.52M119.67 250.15V255.85" fill="none" stroke="#ff0000" stroke-width="0.8623999999999999"/>
<path d="M121.90 253.00H127.60M124.75 250.15V255.85" fill="none" stroke="#ff0000" stroke-width="0.8623999999999999"/>
<path d="M126.98 253.00H132.68M129.83 250.15V255.85" fill="none" stroke="#ff0000" stroke-width="0.8623999999999999"/>
<path d="M132.07 253.00H137.77M134.92 250.15V255.85" fill="none" stroke="#ff0000" stroke-width="0.8623999999999999"/>
<path d="M137.15 253.00H142.85M140.00 250.15V255.85" fill="none" stroke="#ff0000" stroke-width="0.8623999999999999"/>
<path d="M142.23 253.00H147.93M145.08 250.15V255.85" fill="none" stroke="#ff0000" stroke-width="0.8623999999999999"/>
<path d="M147.32 253.00H153.02M150.17 250.15V255.85" fill="none" stroke="#ff0000" stroke-width="0.8623999999999999"/>
<path d="M152.40 253.00H158.10M155.25 250.15V255.85" fill="none" stroke="#ff0000" stroke-width="0.8623999999999999"/>
<path d="M157.48 253.00H163.18M160.33 250.15V255.85" fill="none" stroke="#ff0000" stroke-width="0.8623999999999999"/>
<path d="M162.57 253.00H168.27M165.42 250.15V255.85" fill="none" stroke="#ff0000" stroke-width="0.8623999999999999"/>
<path d="M167.65 253.00H173.35M170.50 250.15V255.85" fill="none" stroke="#ff0000" stroke-width="0.8623999999999999"/>
<path d="M172.73 253.00H178.43M175.58 250.15V255.85" fill="none" stroke="#ff0000" stroke-width="0.8623999999999999"/>
<path d="M177.82 253.00H183.52M180.67 250.15V255.85" fill="none" stroke="#ff0000" stroke-width="0.8623999999999999"/>
<path d="M182.90 253.00H188.60M185.75 250.15V255.85" fill="none" stroke="#ff0000" stroke-width="0.8623999999999999"/>
<path d="M187.98 253.00H193.68M190.83 250.15V255.85" fill="none" stroke="#ff0000" stroke-width="0.8623999999999999"/>
<path d="M193.07 253.00H198.77M195.92 250.15V255.85" fill="none" stroke="#ff0000" stroke-width="0.8623999999999999"/>
<path d="M198.15 253.00H203.85M201.00 250.15V255.85" fill="none" stroke="#ff0000" stroke-width="0.8623999999999999"/>
<path d="M203.23 253.00H208.93M206.08 250.15V255.85" fill="none" stroke="#ff0000" stroke-width="0.8623999999999999"/>
<path d="M208.32 253.00H214.02M211.17 250.15V255.85" fill="none" stroke="#ff0000" stroke-width="0.8623999999999999"/>
<path d="M213.40 253.00H219.10M216.25 250.15V255.85" fill="none" stroke="#ff0000" stroke-width="0.8623999999999999"/>
<path d="M218.48 253.00H224.18M221.33 250.15V255.85" fill="none" stroke="#ff0000" stroke-width="0.8623999999999999"/>
<path d="M223.57 253.00H229.27M226.42 250.15V255.85" fill="none" stroke="#ff0000" stroke-width="0.8623999999999999"/>
<path d="M228.65 253.00H234.35M231.50 250.15V255.85" fill="none" stroke="#ff0000" stroke-width="0.8623999999999999"/>
<path d="M233.73 253.00H239.43M236.58 250.15V255.85" fill="none" stroke="#ff0000" stroke-width="0.8623999999999999"/>
<path d="M238.82 253.00H244.52M241.67 250.15V255.85" fill="none" stroke="#ff0000" stroke-width="0.8623999999999999"/>
<path d="M243.90 253.00H249.60M246.75 250.15V255.85" fill="none" stroke="#ff0000" stroke-width="0.8623999999999999"/>
<path d="M248.98 253.00H254.68M251.83 250.15V255.85" fill="none" stroke="#ff0000" stroke-width="0.8623999999999999"/>
<path d="M254.07 253.00H259.77M256.92 250.15V255.85" fill="none" stroke="#ff0000" stroke-width="0.8623999999999999"/>
<path d="M259.15 253.00H264.85M262.00 250.15V255.85" fill="none" stroke="#ff0000" stroke-width="0.8623999999999999"/>
<path d="M264.23 253.00H269.93M267.08 250.15V255.85" fill="none" stroke="#ff0000" stroke-width="0.8623999999999999"/>
<path d="M269.32 253.00H275.02M272.17 250.15V255.85" fill="none" stroke="#ff0000" stroke-width="0.8623999999999999"/>
<path d="M274.40 253.00H280.10M277.25 250.15V255.85" fill="none" stroke="#ff0000" stroke-width="0.8623999999999999"/>
<path d="M279.48 253.00H285.18M282.33 250.15V255.85" fill="none" stroke="#ff0000" stroke-width="0.8623999999999999"/>
<path d="M284.57 253.00H290.27M287.42 250.15V255.85" fill="none" stroke="#ff0000" stroke-width="0.8623999999999999"/>
<path d="M289.65 253.00H295.35M292.50 250.15V255.85" fill="none" stroke="#ff0000" stroke-width="0.8623999999999999"/>
<path d="M294.73 253.00H300.43M297.58 250.15V255.85" fill="none" stroke="#ff0000" stroke-width="0.8623999999999999"/>
<path d="M299.82 253.00H305.52M302.67 250.15V255.85" fill="none" stroke="#ff0000" stroke-width="0.8623999999999999"/>
<path d="M304.90 253.00H310.60M307.75 250.15V255.85" fill="none" stroke="#ff0000" stroke-width="0.8623999999999999"/>
<path d="M309.98 253.00H315.68M312.83 250.15V255.85" fill="none" stroke="#ff0000" stroke-width="0.8623999999999999"/>
<path d="M315.07 253.00H320.77M317.92 250.15V255.85" fill="none" stroke="#ff0000" stroke-width="0.8623999999999999"/>
<path d="M320.15 253.00H325.85M323.00 250.15V255.85" fill="none" stroke="#ff0000" stroke-width="0.8623999999999999"/>
<path d="M23.08 151.14L28.17 244.55L33.25 252.81L38.33 253.00L43.42 253.00L48.50 253.00L53.58 253.00L58.67 253.00L63.75 253.00L68.83 253.00L73.92 253.00L79.00 253.00L84.08 253.00L89.17 253.00L94.25 253.00L99.33 253.00L104.42 253.00L109.50 253.00L114.58 253.00L119.67 253.00L124.75 253.00L129.83 253.00L134.92 253.00L140.00 253.00L145.08 253.00L150.17 253.00L155.25 253.00L160.33 253.00L165.42 253.00L170.50 253.00L175.58 253.00L180.67 253.00L185.75 253.00L190.83 253.00L195.92 253.00L201.00 253.00L206.08 253.00L211.17 253.00L216.25 253.00L221.33 253.00L226.42 253.00L231.50 253.00L236.58 253.00L241.67 253.00L246.75 253.00L251.83 253.00L256.92 253.00L262.00 253.00L267.08 253.00L272.17 253.00L277.25 253.00L282.33 253.00L287.42 253.00L292.50 253.00L297.58 253.00L302.67 253.00L307.75 253.00L312.83 253.00L317.92 253.00L323.00 253.00" stroke="#00ffff" stroke-width="0.88" stroke-dasharray="3.5 3.6" fill="none" stroke-linejoin="round"/>
<path d="M19.73 149.75L26.43 149.75L23.08 155.55Z" fill="none" stroke="#00ffff" stroke-width="0.98"/>
<path d="M24.82 243.16L31.52 243.16L28.17 248.96Z" fill="none" stroke="#00ffff" stroke-width="0.98"/>
<path d="M29.90 251.42L36.60 251.42L33.25 257.22Z" fill="none" stroke="#00ffff" stroke-width="0.98"/>
<path d="M34.98 251.61L41.68 251.61L38.33 257.41Z" fill="none" stroke="#00ffff" stroke-width="0.98"/>
<path d="M40.07 251.61L46.77 251.61L43.42 257.41Z" fill="none" stroke="#00ffff" stroke-width="0.98"/>
<path d="M45.15 251.61L51.85 251.61L48.50 257.41Z" fill="none" stroke="#00ffff" stroke-width="0.98"/>
<path d="M50.23 251.61L56.93 251.61L53.58 257.41Z" fill="none" stroke="#00ffff" stroke-width="0.98"/>
<path d="M55.32 251.61L62.02 251.61L58.67 257.41Z" fill="none" stroke="#00ffff" stroke-width="0.98"/>
<path d="M60.40 251.61L67.10 251.61L63.75 257.41Z" fill="none" stroke="#00ffff" stroke-width="0.98"/>
<path d="M65.48 251.61L72.18 251.61L68.83 257.41Z" fill="none" stroke="#00ffff" stroke-width="0.98"/>
<path d="M70.57 251.61L77.27 251.61L73.92 257.41Z" fill="none" stroke="#00ffff" stroke-width="0.98"/>
<path d="M75.65 251.61L82.35 251.61L79.00 257.41Z" fill="none" stroke="#00ffff" stroke-width="0.98"/>
<path d="M80.73 251.61L87.43 251.61L84.08 257.41Z" fill="none" stroke="#00ffff" stroke-width="0.98"/>
<path d="M85.82 251.61L92.52 251.61L89.17 257.41Z" fill="none" stroke="#00ffff" stroke-width="0.98"/>
<path d="M90.90 251.61L97.60 251.61L94.25 257.41Z" fill="none" stroke="#00ffff" stroke-width="0.98"/>
<path d="M95.98 251.61L102.68 251.61L99.33 257.41Z" fill="none" stroke="#00ffff" stroke-width="0.98"/>
<path d="M101.07 251.61L107.77 251.61L104.42 257.41Z" fill="none" stroke="#00ffff" stroke-width="0.98"/>
<path d="M106.15 251.61L112.85 251.61L109.50 257.41Z" fill="none" stroke="#00ffff" stroke-width="0.98"/>
<path d="M111.23 251.61L117.93 251.61L114.58 257.41Z" fill="none" stroke="#00ffff" stroke-width="0.98"/>
<path d="M116.32 251.61L123.02 251.61L119.67 257.41Z" fill="none" stroke="#00ffff" stroke-width="0.98"/>
<path d="M121.40 251.61L128.10 251.61L124.75 257.41Z" fill="none" stroke="#00ffff" stroke-width="0.98"/>
<path d="M126.48 251.61L133.18 251.61L129.83 257.41Z" fill="none" stroke="#00ffff" stroke-width="0.98"/>
<path d="M131.57 251.61L138.27 251.61L134.92 257.41Z" fill="none" stroke="#00ffff" stroke-width="0.98"/>
<path d="M136.65 251.61L143.35 251.61L140.00 257.41Z" fill="none" stroke="#00ffff" stroke-width="0.98"/>
<path d="M141.73 251.61L148.43 251.61L145.08 257.41Z" fill="none" stroke="#00ffff" stroke-width="0.98"/>
<path d="M146.82 251.61L153.52 251.61L150.17 257.41Z" fill="none" stroke="#00ffff" stroke-width="0.98"/>
<path d="M151.90 251.61L158.60 251.61L155.25 257.41Z" fill="none" stroke="#00ffff" stroke-width="0.98"/>
<path d="M156.98 251.61L163.68 251.61L160.33 257.41Z" fill="none" stroke="#00ffff" stroke-width="0.98"/>
<path d="M162.07 251.61L168.77 251.61L165.42 257.41Z" fill="none" stroke="#00ffff" stroke-width="0.98"/>
<path d="M167.15 251.61L173.85 251.61L170.50 257.41Z" fill="none" stroke="#00ffff" stroke-width="0.98"/>
<path d="M172.23 251.61L178.93 251.61L175.58 257.41Z" fill="none" stroke="#00ffff" stroke-width="0.98"/>
<path d="M177.32 251.61L184.02 251.61L180.67 257.41Z" fill="none" stroke="#00ffff" stroke-width="0.98"/>
<path d="M182.40 251.61L189.10 251.61L185.75 257.41Z" fill="none" stroke="#00ffff" stroke-width="0.98"/>
<path d="M187.48 251.61L194.18 251.61L190.83 257.41Z" fill="none" stroke="#00ffff" stroke-width="0.98"/>
<path d="M192.57 251.61L199.27 251.61L195.92 257.41Z" fill="none" stroke="#00ffff" stroke-width="0.98"/>
<path d="M197.65 251.61L204.35 251.61L201.00 257.41Z" fill="none" stroke="#00ffff" stroke-width="0.98"/>
<path d="M202.73 251.61L209.43 251.61L206.08 257.41Z" fill="none" stroke="#00ffff" stroke-width="0.98"/>
<path d="M207.82 251.61L214.52 251.61L211.17 257.41Z" fill="none" stroke="#00ffff" stroke-width="0.98"/>
<path d="M212.90 251.61L219.60 251.61L216.25 257.41Z" fill="none" stroke="#00ffff" stroke-width="0.98"/>
<path d="M217.98 251.61L224.68 251.61L221.33 257.41Z" fill="none" stroke="#00ffff" stroke-width="0.98"/>
<path d="M223.07 251.61L229.77 251.61L226.42 257.41Z" fill="none" stroke="#00ffff" stroke-width="0.98"/>
<path d="M228.15 251.61L234.85 251.61L231.50 257.41Z" fill="none" stroke="#00ffff" stroke-width="0.98"/>
<path d="M233.23 251.61L239.93 251.61L236.58 257.41Z" fill="none" stroke="#00ffff" stroke-width="0.98"/>
<path d="M238.32 251.61L245.02 251.61L241.67 257.41Z" fill="none" stroke="#00ffff" stroke-width="0.98"/>
<path d="M243.40 251.61L250.10 251.61L246.75 257.41Z" fill="none" stroke="#00ffff" stroke-width="0.98"/>
<path d="M248.48 251.61L255.18 251.61L251.83 257.41Z" fill="none" stroke="#00ffff" stroke-width="0.98"/>
<path d="M253.57 251.61L260.27 251.61L256.92 257.41Z" fill="none" stroke="#00ffff" stroke-width="0.98"/>
<path d="M258.65 251.61L265.35 251.61L262.00 257.41Z" fill="none" stroke="#00ffff" stroke-width="0.98"/>
<path d="M263.73 251.61L270.43 251.61L267.08 257.41Z" fill="none" stroke="#00ffff" stroke-width="0.98"/>
<path d="M268.82 251.61L275.52 251.61L272.17 257.41Z" fill="none" stroke="#00ffff" stroke-width="0.98"/>
<path d="M273.90 251.61L280.60 251.61L277.25 257.41Z" fill="none" stroke="#00ffff" stroke-width="0.98"/>
<path d="M278.98 251.61L285.68 251.61L282.33 257.41Z" fill="none" stroke="#00ffff" stroke-width="0.98"/>
<path d="M284.07 251.61L290.77 251.61L287.42 257.41Z" fill="none" stroke="#00ffff" stroke-width="0.98"/>
<path d="M289.15 251.61L295.85 251.61L292.50 257.41Z" fill="none" stroke="#00ffff" stroke-width="0.98"/>
<path d="M294.23 251.61L300.93 251.61L297.58 257.41Z" fill="none" stroke="#00ffff" stroke-width="0.98"/>
<path d="M299.32 251.61L306.02 251.61L302.67 257.41Z" fill="none" stroke="#00ffff" stroke-width="0.98"/>
<path d="M304.40 251.61L311.10 251.61L307.75 257.41Z" fill="none" stroke="#00ffff" stroke-width="0.98"/>
<path d="M309.48 251.61L316.18 251.61L312.83 257.41Z" fill="none" stroke="#00ffff" stroke-width="0.98"/>
<path d="M314.57 251.61L321.27 251.61L317.92 257.41Z" fill="none" stroke="#00ffff" stroke-width="0.98"/>
<path d="M319.65 251.61L326.35 251.61L323.00 257.41Z" fill="none" stroke="#00ffff" stroke-width="0.98"/>
<path d="M30.55 253.2L33.25 257.2L35.95 253.2" fill="none" stroke="#000" stroke-width="0.9"/>
<rect x="233.9" y="20.2" width="82.2" height="72.2" fill="#fff" stroke="#555" stroke-width="0.95"/>
<path d="M237.10 27.20H264.90" stroke="#ffff00" stroke-width="0.85" fill="none"/>
<path d="M248.80 23.50L255.10 27.20L248.80 30.90Z" fill="none" stroke="#ffff00" stroke-width="0.85"/>
<text transform="translate(267.70 30.20) scale(0.965 1)" font-size="8.6" text-anchor="start" fill="#000">HCOA</text>
<path d="M237.10 38.83H264.90" stroke="#000000" stroke-width="0.85" fill="none"/>
<path d="M248.20 38.83L250.90 34.83L253.60 38.83L250.90 42.83Z" fill="none" stroke="#000000" stroke-width="0.901"/>
<text transform="translate(267.70 41.83) scale(0.965 1)" font-size="8.6" text-anchor="start" fill="#000">BBPSO</text>
<path d="M237.10 50.46H264.90" stroke="#00ff00" stroke-width="0.85" fill="none"/>
<circle cx="250.90" cy="50.46" r="2.80" fill="none" stroke="#00ff00" stroke-width="0.85"/>
<text transform="translate(267.70 53.46) scale(0.965 1)" font-size="8.6" text-anchor="start" fill="#000">PBBPSO</text>
<path d="M237.10 62.09H264.90" stroke="#0000ff" stroke-width="0.85" fill="none"/>
<path d="M248.40 62.09H253.40M250.90 58.89V65.29M248.90 60.09L252.90 64.09M248.90 64.09L252.90 60.09" fill="none" stroke="#0000ff" stroke-width="0.78"/>
<text transform="translate(267.70 65.09) scale(0.965 1)" font-size="8.6" text-anchor="start" fill="#000">DLSBBPSO</text>
<path d="M237.10 73.72H264.90" stroke="#ff0000" stroke-width="0.85" stroke-dasharray="3.5 3.6" fill="none"/>
<path d="M248.05 73.72H253.75M250.90 70.87V76.57" fill="none" stroke="#ff0000" stroke-width="0.748"/>
<text transform="translate(267.70 76.72) scale(0.965 1)" font-size="8.6" text-anchor="start" fill="#000">TBBPSO</text>
<path d="M237.10 85.35H264.90" stroke="#00ffff" stroke-width="0.85" stroke-dasharray="3.5 3.6" fill="none"/>
<path d="M247.55 83.96L254.25 83.96L250.90 89.76Z" fill="none" stroke="#00ffff" stroke-width="0.85"/>
<text transform="translate(267.70 88.35) scale(0.965 1)" font-size="8.6" text-anchor="start" fill="#000">ETBBPSO</text>
<path d="M378.4 12.7V253.75" stroke="#8a8a8a" stroke-width="1.3" fill="none"/>
<path d="M683.5 12.7V253.75" stroke="#8a8a8a" stroke-width="1.0" fill="none"/>
<path d="M377.75 13.35H684.0" stroke="#8e8e8e" stroke-width="1.3" fill="none"/>
<path d="M377.75 253.1H684.0" stroke="#8e8e8e" stroke-width="1.3" fill="none"/>
<path d="M446.20 253.1v-3.2M446.20 13.35v3.2M514.00 253.1v-3.2M514.00 13.35v3.2M581.80 253.1v-3.2M581.80 13.35v3.2M649.60 253.1v-3.2M649.60 13.35v3.2M378.4 213.14h3.2M683.5 213.14h-3.2M378.4 173.18h3.2M683.5 173.18h-3.2M378.4 133.22h3.2M683.5 133.22h-3.2M378.4 93.27h3.2M683.5 93.27h-3.2M378.4 53.31h3.2M683.5 53.31h-3.2" stroke="#3a3a3a" stroke-width="0.85" fill="none"/>
<text transform="translate(378.20 266.25) scale(0.955 1)" font-size="9.8" text-anchor="middle" fill="#262626">60</text>
<text transform="translate(446.00 266.25) scale(0.955 1)" font-size="9.8" text-anchor="middle" fill="#262626">70</text>
<text transform="translate(513.80 266.25) scale(0.955 1)" font-size="9.8" text-anchor="middle" fill="#262626">80</text>
<text transform="translate(581.60 266.25) scale(0.955 1)" font-size="9.8" text-anchor="middle" fill="#262626">90</text>
<text transform="translate(649.40 266.25) scale(0.955 1)" font-size="9.8" text-anchor="middle" fill="#262626">100</text>
<text transform="translate(374.50 256.50) scale(0.955 1)" font-size="9.8" text-anchor="end" fill="#262626">6000</text>
<text transform="translate(374.50 216.50) scale(0.955 1)" font-size="9.8" text-anchor="end" fill="#262626">7000</text>
<text transform="translate(374.50 176.50) scale(0.955 1)" font-size="9.8" text-anchor="end" fill="#262626">8000</text>
<text transform="translate(374.50 136.50) scale(0.955 1)" font-size="9.8" text-anchor="end" fill="#262626">9000</text>
<text transform="translate(374.50 96.50) scale(0.955 1)" font-size="9.8" text-anchor="end" fill="#262626">10000</text>
<text transform="translate(374.50 56.50) scale(0.955 1)" font-size="9.8" text-anchor="end" fill="#262626">11000</text>
<text transform="translate(374.50 16.50) scale(0.955 1)" font-size="9.8" text-anchor="end" fill="#262626">12000</text>
<text transform="translate(530.50 280.00) scale(0.955 1)" font-size="10.6" text-anchor="middle" fill="#262626">(b)</text>
<path d="M384.98 226.92H656.18" stroke="#ffff00" stroke-width="0.75" fill="none"/>
<path d="M382.88 223.22L389.18 226.92L382.88 230.62Z" fill="none" stroke="#ffff00" stroke-width="0.98"/>
<path d="M389.66 223.22L395.96 226.92L389.66 230.62Z" fill="none" stroke="#ffff00" stroke-width="0.98"/>
<path d="M396.44 223.22L402.74 226.92L396.44 230.62Z" fill="none" stroke="#ffff00" stroke-width="0.98"/>
<path d="M403.22 223.22L409.52 226.92L403.22 230.62Z" fill="none" stroke="#ffff00" stroke-width="0.98"/>
<path d="M410.00 223.22L416.30 226.92L410.00 230.62Z" fill="none" stroke="#ffff00" stroke-width="0.98"/>
<path d="M416.78 223.22L423.08 226.92L416.78 230.62Z" fill="none" stroke="#ffff00" stroke-width="0.98"/>
<path d="M423.56 223.22L429.86 226.92L423.56 230.62Z" fill="none" stroke="#ffff00" stroke-width="0.98"/>
<path d="M430.34 223.22L436.64 226.92L430.34 230.62Z" fill="none" stroke="#ffff00" stroke-width="0.98"/>
<path d="M437.12 223.22L443.42 226.92L437.12 230.62Z" fill="none" stroke="#ffff00" stroke-width="0.98"/>
<path d="M443.90 223.22L450.20 226.92L443.90 230.62Z" fill="none" stroke="#ffff00" stroke-width="0.98"/>
<path d="M450.68 223.22L456.98 226.92L450.68 230.62Z" fill="none" stroke="#ffff00" stroke-width="0.98"/>
<path d="M457.46 223.22L463.76 226.92L457.46 230.62Z" fill="none" stroke="#ffff00" stroke-width="0.98"/>
<path d="M464.24 223.22L470.54 226.92L464.24 230.62Z" fill="none" stroke="#ffff00" stroke-width="0.98"/>
<path d="M471.02 223.22L477.32 226.92L471.02 230.62Z" fill="none" stroke="#ffff00" stroke-width="0.98"/>
<path d="M477.80 223.22L484.10 226.92L477.80 230.62Z" fill="none" stroke="#ffff00" stroke-width="0.98"/>
<path d="M484.58 223.22L490.88 226.92L484.58 230.62Z" fill="none" stroke="#ffff00" stroke-width="0.98"/>
<path d="M491.36 223.22L497.66 226.92L491.36 230.62Z" fill="none" stroke="#ffff00" stroke-width="0.98"/>
<path d="M498.14 223.22L504.44 226.92L498.14 230.62Z" fill="none" stroke="#ffff00" stroke-width="0.98"/>
<path d="M504.92 223.22L511.22 226.92L504.92 230.62Z" fill="none" stroke="#ffff00" stroke-width="0.98"/>
<path d="M511.70 223.22L518.00 226.92L511.70 230.62Z" fill="none" stroke="#ffff00" stroke-width="0.98"/>
<path d="M518.48 223.22L524.78 226.92L518.48 230.62Z" fill="none" stroke="#ffff00" stroke-width="0.98"/>
<path d="M525.26 223.22L531.56 226.92L525.26 230.62Z" fill="none" stroke="#ffff00" stroke-width="0.98"/>
<path d="M532.04 223.22L538.34 226.92L532.04 230.62Z" fill="none" stroke="#ffff00" stroke-width="0.98"/>
<path d="M538.82 223.22L545.12 226.92L538.82 230.62Z" fill="none" stroke="#ffff00" stroke-width="0.98"/>
<path d="M545.60 223.22L551.90 226.92L545.60 230.62Z" fill="none" stroke="#ffff00" stroke-width="0.98"/>
<path d="M552.38 223.22L558.68 226.92L552.38 230.62Z" fill="none" stroke="#ffff00" stroke-width="0.98"/>
<path d="M559.16 223.22L565.46 226.92L559.16 230.62Z" fill="none" stroke="#ffff00" stroke-width="0.98"/>
<path d="M565.94 223.22L572.24 226.92L565.94 230.62Z" fill="none" stroke="#ffff00" stroke-width="0.98"/>
<path d="M572.72 223.22L579.02 226.92L572.72 230.62Z" fill="none" stroke="#ffff00" stroke-width="0.98"/>
<path d="M579.50 223.22L585.80 226.92L579.50 230.62Z" fill="none" stroke="#ffff00" stroke-width="0.98"/>
<path d="M586.28 223.22L592.58 226.92L586.28 230.62Z" fill="none" stroke="#ffff00" stroke-width="0.98"/>
<path d="M593.06 223.22L599.36 226.92L593.06 230.62Z" fill="none" stroke="#ffff00" stroke-width="0.98"/>
<path d="M599.84 223.22L606.14 226.92L599.84 230.62Z" fill="none" stroke="#ffff00" stroke-width="0.98"/>
<path d="M606.62 223.22L612.92 226.92L606.62 230.62Z" fill="none" stroke="#ffff00" stroke-width="0.98"/>
<path d="M613.40 223.22L619.70 226.92L613.40 230.62Z" fill="none" stroke="#ffff00" stroke-width="0.98"/>
<path d="M620.18 223.22L626.48 226.92L620.18 230.62Z" fill="none" stroke="#ffff00" stroke-width="0.98"/>
<path d="M626.96 223.22L633.26 226.92L626.96 230.62Z" fill="none" stroke="#ffff00" stroke-width="0.98"/>
<path d="M633.74 223.22L640.04 226.92L633.74 230.62Z" fill="none" stroke="#ffff00" stroke-width="0.98"/>
<path d="M640.52 223.22L646.82 226.92L640.52 230.62Z" fill="none" stroke="#ffff00" stroke-width="0.98"/>
<path d="M647.30 223.22L653.60 226.92L647.30 230.62Z" fill="none" stroke="#ffff00" stroke-width="0.98"/>
<path d="M654.08 223.22L660.38 226.92L654.08 230.62Z" fill="none" stroke="#ffff00" stroke-width="0.98"/>
<path d="M384.98 89.12H656.18" stroke="#000000" stroke-width="0.75" fill="none"/>
<path d="M382.28 89.12L384.98 85.12L387.68 89.12L384.98 93.12Z" fill="none" stroke="#000000" stroke-width="1.0388"/>
<path d="M389.06 89.12L391.76 85.12L394.46 89.12L391.76 93.12Z" fill="none" stroke="#000000" stroke-width="1.0388"/>
<path d="M395.84 89.12L398.54 85.12L401.24 89.12L398.54 93.12Z" fill="none" stroke="#000000" stroke-width="1.0388"/>
<path d="M402.62 89.12L405.32 85.12L408.02 89.12L405.32 93.12Z" fill="none" stroke="#000000" stroke-width="1.0388"/>
<path d="M409.40 89.12L412.10 85.12L414.80 89.12L412.10 93.12Z" fill="none" stroke="#000000" stroke-width="1.0388"/>
<path d="M416.18 89.12L418.88 85.12L421.58 89.12L418.88 93.12Z" fill="none" stroke="#000000" stroke-width="1.0388"/>
<path d="M422.96 89.12L425.66 85.12L428.36 89.12L425.66 93.12Z" fill="none" stroke="#000000" stroke-width="1.0388"/>
<path d="M429.74 89.12L432.44 85.12L435.14 89.12L432.44 93.12Z" fill="none" stroke="#000000" stroke-width="1.0388"/>
<path d="M436.52 89.12L439.22 85.12L441.92 89.12L439.22 93.12Z" fill="none" stroke="#000000" stroke-width="1.0388"/>
<path d="M443.30 89.12L446.00 85.12L448.70 89.12L446.00 93.12Z" fill="none" stroke="#000000" stroke-width="1.0388"/>
<path d="M450.08 89.12L452.78 85.12L455.48 89.12L452.78 93.12Z" fill="none" stroke="#000000" stroke-width="1.0388"/>
<path d="M456.86 89.12L459.56 85.12L462.26 89.12L459.56 93.12Z" fill="none" stroke="#000000" stroke-width="1.0388"/>
<path d="M463.64 89.12L466.34 85.12L469.04 89.12L466.34 93.12Z" fill="none" stroke="#000000" stroke-width="1.0388"/>
<path d="M470.42 89.12L473.12 85.12L475.82 89.12L473.12 93.12Z" fill="none" stroke="#000000" stroke-width="1.0388"/>
<path d="M477.20 89.12L479.90 85.12L482.60 89.12L479.90 93.12Z" fill="none" stroke="#000000" stroke-width="1.0388"/>
<path d="M483.98 89.12L486.68 85.12L489.38 89.12L486.68 93.12Z" fill="none" stroke="#000000" stroke-width="1.0388"/>
<path d="M490.76 89.12L493.46 85.12L496.16 89.12L493.46 93.12Z" fill="none" stroke="#000000" stroke-width="1.0388"/>
<path d="M497.54 89.12L500.24 85.12L502.94 89.12L500.24 93.12Z" fill="none" stroke="#000000" stroke-width="1.0388"/>
<path d="M504.32 89.12L507.02 85.12L509.72 89.12L507.02 93.12Z" fill="none" stroke="#000000" stroke-width="1.0388"/>
<path d="M511.10 89.12L513.80 85.12L516.50 89.12L513.80 93.12Z" fill="none" stroke="#000000" stroke-width="1.0388"/>
<path d="M517.88 89.12L520.58 85.12L523.28 89.12L520.58 93.12Z" fill="none" stroke="#000000" stroke-width="1.0388"/>
<path d="M524.66 89.12L527.36 85.12L530.06 89.12L527.36 93.12Z" fill="none" stroke="#000000" stroke-width="1.0388"/>
<path d="M531.44 89.12L534.14 85.12L536.84 89.12L534.14 93.12Z" fill="none" stroke="#000000" stroke-width="1.0388"/>
<path d="M538.22 89.12L540.92 85.12L543.62 89.12L540.92 93.12Z" fill="none" stroke="#000000" stroke-width="1.0388"/>
<path d="M545.00 89.12L547.70 85.12L550.40 89.12L547.70 93.12Z" fill="none" stroke="#000000" stroke-width="1.0388"/>
<path d="M551.78 89.12L554.48 85.12L557.18 89.12L554.48 93.12Z" fill="none" stroke="#000000" stroke-width="1.0388"/>
<path d="M558.56 89.12L561.26 85.12L563.96 89.12L561.26 93.12Z" fill="none" stroke="#000000" stroke-width="1.0388"/>
<path d="M565.34 89.12L568.04 85.12L570.74 89.12L568.04 93.12Z" fill="none" stroke="#000000" stroke-width="1.0388"/>
<path d="M572.12 89.12L574.82 85.12L577.52 89.12L574.82 93.12Z" fill="none" stroke="#000000" stroke-width="1.0388"/>
<path d="M578.90 89.12L581.60 85.12L584.30 89.12L581.60 93.12Z" fill="none" stroke="#000000" stroke-width="1.0388"/>
<path d="M585.68 89.12L588.38 85.12L591.08 89.12L588.38 93.12Z" fill="none" stroke="#000000" stroke-width="1.0388"/>
<path d="M592.46 89.12L595.16 85.12L597.86 89.12L595.16 93.12Z" fill="none" stroke="#000000" stroke-width="1.0388"/>
<path d="M599.24 89.12L601.94 85.12L604.64 89.12L601.94 93.12Z" fill="none" stroke="#000000" stroke-width="1.0388"/>
<path d="M606.02 89.12L608.72 85.12L611.42 89.12L608.72 93.12Z" fill="none" stroke="#000000" stroke-width="1.0388"/>
<path d="M612.80 89.12L615.50 85.12L618.20 89.12L615.50 93.12Z" fill="none" stroke="#000000" stroke-width="1.0388"/>
<path d="M619.58 89.12L622.28 85.12L624.98 89.12L622.28 93.12Z" fill="none" stroke="#000000" stroke-width="1.0388"/>
<path d="M626.36 89.12L629.06 85.12L631.76 89.12L629.06 93.12Z" fill="none" stroke="#000000" stroke-width="1.0388"/>
<path d="M633.14 89.12L635.84 85.12L638.54 89.12L635.84 93.12Z" fill="none" stroke="#000000" stroke-width="1.0388"/>
<path d="M639.92 89.12L642.62 85.12L645.32 89.12L642.62 93.12Z" fill="none" stroke="#000000" stroke-width="1.0388"/>
<path d="M646.70 89.12L649.40 85.12L652.10 89.12L649.40 93.12Z" fill="none" stroke="#000000" stroke-width="1.0388"/>
<path d="M653.48 89.12L656.18 85.12L658.88 89.12L656.18 93.12Z" fill="none" stroke="#000000" stroke-width="1.0388"/>
<path d="M384.98 154.12H656.18" stroke="#00ff00" stroke-width="0.75" fill="none"/>
<circle cx="384.98" cy="154.12" r="2.80" fill="none" stroke="#00ff00" stroke-width="0.98"/>
<circle cx="391.76" cy="154.12" r="2.80" fill="none" stroke="#00ff00" stroke-width="0.98"/>
<circle cx="398.54" cy="154.12" r="2.80" fill="none" stroke="#00ff00" stroke-width="0.98"/>
<circle cx="405.32" cy="154.12" r="2.80" fill="none" stroke="#00ff00" stroke-width="0.98"/>
<circle cx="412.10" cy="154.12" r="2.80" fill="none" stroke="#00ff00" stroke-width="0.98"/>
<circle cx="418.88" cy="154.12" r="2.80" fill="none" stroke="#00ff00" stroke-width="0.98"/>
<circle cx="425.66" cy="154.12" r="2.80" fill="none" stroke="#00ff00" stroke-width="0.98"/>
<circle cx="432.44" cy="154.12" r="2.80" fill="none" stroke="#00ff00" stroke-width="0.98"/>
<circle cx="439.22" cy="154.12" r="2.80" fill="none" stroke="#00ff00" stroke-width="0.98"/>
<circle cx="446.00" cy="154.12" r="2.80" fill="none" stroke="#00ff00" stroke-width="0.98"/>
<circle cx="452.78" cy="154.12" r="2.80" fill="none" stroke="#00ff00" stroke-width="0.98"/>
<circle cx="459.56" cy="154.12" r="2.80" fill="none" stroke="#00ff00" stroke-width="0.98"/>
<circle cx="466.34" cy="154.12" r="2.80" fill="none" stroke="#00ff00" stroke-width="0.98"/>
<circle cx="473.12" cy="154.12" r="2.80" fill="none" stroke="#00ff00" stroke-width="0.98"/>
<circle cx="479.90" cy="154.12" r="2.80" fill="none" stroke="#00ff00" stroke-width="0.98"/>
<circle cx="486.68" cy="154.12" r="2.80" fill="none" stroke="#00ff00" stroke-width="0.98"/>
<circle cx="493.46" cy="154.12" r="2.80" fill="none" stroke="#00ff00" stroke-width="0.98"/>
<circle cx="500.24" cy="154.12" r="2.80" fill="none" stroke="#00ff00" stroke-width="0.98"/>
<circle cx="507.02" cy="154.12" r="2.80" fill="none" stroke="#00ff00" stroke-width="0.98"/>
<circle cx="513.80" cy="154.12" r="2.80" fill="none" stroke="#00ff00" stroke-width="0.98"/>
<circle cx="520.58" cy="154.12" r="2.80" fill="none" stroke="#00ff00" stroke-width="0.98"/>
<circle cx="527.36" cy="154.12" r="2.80" fill="none" stroke="#00ff00" stroke-width="0.98"/>
<circle cx="534.14" cy="154.12" r="2.80" fill="none" stroke="#00ff00" stroke-width="0.98"/>
<circle cx="540.92" cy="154.12" r="2.80" fill="none" stroke="#00ff00" stroke-width="0.98"/>
<circle cx="547.70" cy="154.12" r="2.80" fill="none" stroke="#00ff00" stroke-width="0.98"/>
<circle cx="554.48" cy="154.12" r="2.80" fill="none" stroke="#00ff00" stroke-width="0.98"/>
<circle cx="561.26" cy="154.12" r="2.80" fill="none" stroke="#00ff00" stroke-width="0.98"/>
<circle cx="568.04" cy="154.12" r="2.80" fill="none" stroke="#00ff00" stroke-width="0.98"/>
<circle cx="574.82" cy="154.12" r="2.80" fill="none" stroke="#00ff00" stroke-width="0.98"/>
<circle cx="581.60" cy="154.12" r="2.80" fill="none" stroke="#00ff00" stroke-width="0.98"/>
<circle cx="588.38" cy="154.12" r="2.80" fill="none" stroke="#00ff00" stroke-width="0.98"/>
<circle cx="595.16" cy="154.12" r="2.80" fill="none" stroke="#00ff00" stroke-width="0.98"/>
<circle cx="601.94" cy="154.12" r="2.80" fill="none" stroke="#00ff00" stroke-width="0.98"/>
<circle cx="608.72" cy="154.12" r="2.80" fill="none" stroke="#00ff00" stroke-width="0.98"/>
<circle cx="615.50" cy="154.12" r="2.80" fill="none" stroke="#00ff00" stroke-width="0.98"/>
<circle cx="622.28" cy="154.12" r="2.80" fill="none" stroke="#00ff00" stroke-width="0.98"/>
<circle cx="629.06" cy="154.12" r="2.80" fill="none" stroke="#00ff00" stroke-width="0.98"/>
<circle cx="635.84" cy="154.12" r="2.80" fill="none" stroke="#00ff00" stroke-width="0.98"/>
<circle cx="642.62" cy="154.12" r="2.80" fill="none" stroke="#00ff00" stroke-width="0.98"/>
<circle cx="649.40" cy="154.12" r="2.80" fill="none" stroke="#00ff00" stroke-width="0.98"/>
<circle cx="656.18" cy="154.12" r="2.80" fill="none" stroke="#00ff00" stroke-width="0.98"/>
<path d="M384.98 14.68H656.18" stroke="#0000ff" stroke-width="0.75" fill="none"/>
<path d="M382.48 14.68H387.48M384.98 11.48V17.88M382.98 12.68L386.98 16.68M382.98 16.68L386.98 12.68" fill="none" stroke="#0000ff" stroke-width="0.90"/>
<path d="M389.26 14.68H394.26M391.76 11.48V17.88M389.76 12.68L393.76 16.68M389.76 16.68L393.76 12.68" fill="none" stroke="#0000ff" stroke-width="0.90"/>
<path d="M396.04 14.68H401.04M398.54 11.48V17.88M396.54 12.68L400.54 16.68M396.54 16.68L400.54 12.68" fill="none" stroke="#0000ff" stroke-width="0.90"/>
<path d="M402.82 14.68H407.82M405.32 11.48V17.88M403.32 12.68L407.32 16.68M403.32 16.68L407.32 12.68" fill="none" stroke="#0000ff" stroke-width="0.90"/>
<path d="M409.60 14.68H414.60M412.10 11.48V17.88M410.10 12.68L414.10 16.68M410.10 16.68L414.10 12.68" fill="none" stroke="#0000ff" stroke-width="0.90"/>
<path d="M416.38 14.68H421.38M418.88 11.48V17.88M416.88 12.68L420.88 16.68M416.88 16.68L420.88 12.68" fill="none" stroke="#0000ff" stroke-width="0.90"/>
<path d="M423.16 14.68H428.16M425.66 11.48V17.88M423.66 12.68L427.66 16.68M423.66 16.68L427.66 12.68" fill="none" stroke="#0000ff" stroke-width="0.90"/>
<path d="M429.94 14.68H434.94M432.44 11.48V17.88M430.44 12.68L434.44 16.68M430.44 16.68L434.44 12.68" fill="none" stroke="#0000ff" stroke-width="0.90"/>
<path d="M436.72 14.68H441.72M439.22 11.48V17.88M437.22 12.68L441.22 16.68M437.22 16.68L441.22 12.68" fill="none" stroke="#0000ff" stroke-width="0.90"/>
<path d="M443.50 14.68H448.50M446.00 11.48V17.88M444.00 12.68L448.00 16.68M444.00 16.68L448.00 12.68" fill="none" stroke="#0000ff" stroke-width="0.90"/>
<path d="M450.28 14.68H455.28M452.78 11.48V17.88M450.78 12.68L454.78 16.68M450.78 16.68L454.78 12.68" fill="none" stroke="#0000ff" stroke-width="0.90"/>
<path d="M457.06 14.68H462.06M459.56 11.48V17.88M457.56 12.68L461.56 16.68M457.56 16.68L461.56 12.68" fill="none" stroke="#0000ff" stroke-width="0.90"/>
<path d="M463.84 14.68H468.84M466.34 11.48V17.88M464.34 12.68L468.34 16.68M464.34 16.68L468.34 12.68" fill="none" stroke="#0000ff" stroke-width="0.90"/>
<path d="M470.62 14.68H475.62M473.12 11.48V17.88M471.12 12.68L475.12 16.68M471.12 16.68L475.12 12.68" fill="none" stroke="#0000ff" stroke-width="0.90"/>
<path d="M477.40 14.68H482.40M479.90 11.48V17.88M477.90 12.68L481.90 16.68M477.90 16.68L481.90 12.68" fill="none" stroke="#0000ff" stroke-width="0.90"/>
<path d="M484.18 14.68H489.18M486.68 11.48V17.88M484.68 12.68L488.68 16.68M484.68 16.68L488.68 12.68" fill="none" stroke="#0000ff" stroke-width="0.90"/>
<path d="M490.96 14.68H495.96M493.46 11.48V17.88M491.46 12.68L495.46 16.68M491.46 16.68L495.46 12.68" fill="none" stroke="#0000ff" stroke-width="0.90"/>
<path d="M497.74 14.68H502.74M500.24 11.48V17.88M498.24 12.68L502.24 16.68M498.24 16.68L502.24 12.68" fill="none" stroke="#0000ff" stroke-width="0.90"/>
<path d="M504.52 14.68H509.52M507.02 11.48V17.88M505.02 12.68L509.02 16.68M505.02 16.68L509.02 12.68" fill="none" stroke="#0000ff" stroke-width="0.90"/>
<path d="M511.30 14.68H516.30M513.80 11.48V17.88M511.80 12.68L515.80 16.68M511.80 16.68L515.80 12.68" fill="none" stroke="#0000ff" stroke-width="0.90"/>
<path d="M518.08 14.68H523.08M520.58 11.48V17.88M518.58 12.68L522.58 16.68M518.58 16.68L522.58 12.68" fill="none" stroke="#0000ff" stroke-width="0.90"/>
<path d="M524.86 14.68H529.86M527.36 11.48V17.88M525.36 12.68L529.36 16.68M525.36 16.68L529.36 12.68" fill="none" stroke="#0000ff" stroke-width="0.90"/>
<path d="M531.64 14.68H536.64M534.14 11.48V17.88M532.14 12.68L536.14 16.68M532.14 16.68L536.14 12.68" fill="none" stroke="#0000ff" stroke-width="0.90"/>
<path d="M538.42 14.68H543.42M540.92 11.48V17.88M538.92 12.68L542.92 16.68M538.92 16.68L542.92 12.68" fill="none" stroke="#0000ff" stroke-width="0.90"/>
<path d="M545.20 14.68H550.20M547.70 11.48V17.88M545.70 12.68L549.70 16.68M545.70 16.68L549.70 12.68" fill="none" stroke="#0000ff" stroke-width="0.90"/>
<path d="M551.98 14.68H556.98M554.48 11.48V17.88M552.48 12.68L556.48 16.68M552.48 16.68L556.48 12.68" fill="none" stroke="#0000ff" stroke-width="0.90"/>
<path d="M558.76 14.68H563.76M561.26 11.48V17.88M559.26 12.68L563.26 16.68M559.26 16.68L563.26 12.68" fill="none" stroke="#0000ff" stroke-width="0.90"/>
<path d="M565.54 14.68H570.54M568.04 11.48V17.88M566.04 12.68L570.04 16.68M566.04 16.68L570.04 12.68" fill="none" stroke="#0000ff" stroke-width="0.90"/>
<path d="M572.32 14.68H577.32M574.82 11.48V17.88M572.82 12.68L576.82 16.68M572.82 16.68L576.82 12.68" fill="none" stroke="#0000ff" stroke-width="0.90"/>
<path d="M579.10 14.68H584.10M581.60 11.48V17.88M579.60 12.68L583.60 16.68M579.60 16.68L583.60 12.68" fill="none" stroke="#0000ff" stroke-width="0.90"/>
<path d="M585.88 14.68H590.88M588.38 11.48V17.88M586.38 12.68L590.38 16.68M586.38 16.68L590.38 12.68" fill="none" stroke="#0000ff" stroke-width="0.90"/>
<path d="M592.66 14.68H597.66M595.16 11.48V17.88M593.16 12.68L597.16 16.68M593.16 16.68L597.16 12.68" fill="none" stroke="#0000ff" stroke-width="0.90"/>
<path d="M599.44 14.68H604.44M601.94 11.48V17.88M599.94 12.68L603.94 16.68M599.94 16.68L603.94 12.68" fill="none" stroke="#0000ff" stroke-width="0.90"/>
<path d="M606.22 14.68H611.22M608.72 11.48V17.88M606.72 12.68L610.72 16.68M606.72 16.68L610.72 12.68" fill="none" stroke="#0000ff" stroke-width="0.90"/>
<path d="M613.00 14.68H618.00M615.50 11.48V17.88M613.50 12.68L617.50 16.68M613.50 16.68L617.50 12.68" fill="none" stroke="#0000ff" stroke-width="0.90"/>
<path d="M619.78 14.68H624.78M622.28 11.48V17.88M620.28 12.68L624.28 16.68M620.28 16.68L624.28 12.68" fill="none" stroke="#0000ff" stroke-width="0.90"/>
<path d="M626.56 14.68H631.56M629.06 11.48V17.88M627.06 12.68L631.06 16.68M627.06 16.68L631.06 12.68" fill="none" stroke="#0000ff" stroke-width="0.90"/>
<path d="M633.34 14.68H638.34M635.84 11.48V17.88M633.84 12.68L637.84 16.68M633.84 16.68L637.84 12.68" fill="none" stroke="#0000ff" stroke-width="0.90"/>
<path d="M640.12 14.68H645.12M642.62 11.48V17.88M640.62 12.68L644.62 16.68M640.62 16.68L644.62 12.68" fill="none" stroke="#0000ff" stroke-width="0.90"/>
<path d="M646.90 14.68H651.90M649.40 11.48V17.88M647.40 12.68L651.40 16.68M647.40 16.68L651.40 12.68" fill="none" stroke="#0000ff" stroke-width="0.90"/>
<path d="M653.68 14.68H658.68M656.18 11.48V17.88M654.18 12.68L658.18 16.68M654.18 16.68L658.18 12.68" fill="none" stroke="#0000ff" stroke-width="0.90"/>
<path d="M384.98 105.32H656.18" stroke="#ff0000" stroke-width="0.95" stroke-dasharray="3.5 3.6" fill="none"/>
<path d="M382.13 105.32H387.83M384.98 102.47V108.17" fill="none" stroke="#ff0000" stroke-width="0.8623999999999999"/>
<path d="M388.91 105.32H394.61M391.76 102.47V108.17" fill="none" stroke="#ff0000" stroke-width="0.8623999999999999"/>
<path d="M395.69 105.32H401.39M398.54 102.47V108.17" fill="none" stroke="#ff0000" stroke-width="0.8623999999999999"/>
<path d="M402.47 105.32H408.17M405.32 102.47V108.17" fill="none" stroke="#ff0000" stroke-width="0.8623999999999999"/>
<path d="M409.25 105.32H414.95M412.10 102.47V108.17" fill="none" stroke="#ff0000" stroke-width="0.8623999999999999"/>
<path d="M416.03 105.32H421.73M418.88 102.47V108.17" fill="none" stroke="#ff0000" stroke-width="0.8623999999999999"/>
<path d="M422.81 105.32H428.51M425.66 102.47V108.17" fill="none" stroke="#ff0000" stroke-width="0.8623999999999999"/>
<path d="M429.59 105.32H435.29M432.44 102.47V108.17" fill="none" stroke="#ff0000" stroke-width="0.8623999999999999"/>
<path d="M436.37 105.32H442.07M439.22 102.47V108.17" fill="none" stroke="#ff0000" stroke-width="0.8623999999999999"/>
<path d="M443.15 105.32H448.85M446.00 102.47V108.17" fill="none" stroke="#ff0000" stroke-width="0.8623999999999999"/>
<path d="M449.93 105.32H455.63M452.78 102.47V108.17" fill="none" stroke="#ff0000" stroke-width="0.8623999999999999"/>
<path d="M456.71 105.32H462.41M459.56 102.47V108.17" fill="none" stroke="#ff0000" stroke-width="0.8623999999999999"/>
<path d="M463.49 105.32H469.19M466.34 102.47V108.17" fill="none" stroke="#ff0000" stroke-width="0.8623999999999999"/>
<path d="M470.27 105.32H475.97M473.12 102.47V108.17" fill="none" stroke="#ff0000" stroke-width="0.8623999999999999"/>
<path d="M477.05 105.32H482.75M479.90 102.47V108.17" fill="none" stroke="#ff0000" stroke-width="0.8623999999999999"/>
<path d="M483.83 105.32H489.53M486.68 102.47V108.17" fill="none" stroke="#ff0000" stroke-width="0.8623999999999999"/>
<path d="M490.61 105.32H496.31M493.46 102.47V108.17" fill="none" stroke="#ff0000" stroke-width="0.8623999999999999"/>
<path d="M497.39 105.32H503.09M500.24 102.47V108.17" fill="none" stroke="#ff0000" stroke-width="0.8623999999999999"/>
<path d="M504.17 105.32H509.87M507.02 102.47V108.17" fill="none" stroke="#ff0000" stroke-width="0.8623999999999999"/>
<path d="M510.95 105.32H516.65M513.80 102.47V108.17" fill="none" stroke="#ff0000" stroke-width="0.8623999999999999"/>
<path d="M517.73 105.32H523.43M520.58 102.47V108.17" fill="none" stroke="#ff0000" stroke-width="0.8623999999999999"/>
<path d="M524.51 105.32H530.21M527.36 102.47V108.17" fill="none" stroke="#ff0000" stroke-width="0.8623999999999999"/>
<path d="M531.29 105.32H536.99M534.14 102.47V108.17" fill="none" stroke="#ff0000" stroke-width="0.8623999999999999"/>
<path d="M538.07 105.32H543.77M540.92 102.47V108.17" fill="none" stroke="#ff0000" stroke-width="0.8623999999999999"/>
<path d="M544.85 105.32H550.55M547.70 102.47V108.17" fill="none" stroke="#ff0000" stroke-width="0.8623999999999999"/>
<path d="M551.63 105.32H557.33M554.48 102.47V108.17" fill="none" stroke="#ff0000" stroke-width="0.8623999999999999"/>
<path d="M558.41 105.32H564.11M561.26 102.47V108.17" fill="none" stroke="#ff0000" stroke-width="0.8623999999999999"/>
<path d="M565.19 105.32H570.89M568.04 102.47V108.17" fill="none" stroke="#ff0000" stroke-width="0.8623999999999999"/>
<path d="M571.97 105.32H577.67M574.82 102.47V108.17" fill="none" stroke="#ff0000" stroke-width="0.8623999999999999"/>
<path d="M578.75 105.32H584.45M581.60 102.47V108.17" fill="none" stroke="#ff0000" stroke-width="0.8623999999999999"/>
<path d="M585.53 105.32H591.23M588.38 102.47V108.17" fill="none" stroke="#ff0000" stroke-width="0.8623999999999999"/>
<path d="M592.31 105.32H598.01M595.16 102.47V108.17" fill="none" stroke="#ff0000" stroke-width="0.8623999999999999"/>
<path d="M599.09 105.32H604.79M601.94 102.47V108.17" fill="none" stroke="#ff0000" stroke-width="0.8623999999999999"/>
<path d="M605.87 105.32H611.57M608.72 102.47V108.17" fill="none" stroke="#ff0000" stroke-width="0.8623999999999999"/>
<path d="M612.65 105.32H618.35M615.50 102.47V108.17" fill="none" stroke="#ff0000" stroke-width="0.8623999999999999"/>
<path d="M619.43 105.32H625.13M622.28 102.47V108.17" fill="none" stroke="#ff0000" stroke-width="0.8623999999999999"/>
<path d="M626.21 105.32H631.91M629.06 102.47V108.17" fill="none" stroke="#ff0000" stroke-width="0.8623999999999999"/>
<path d="M632.99 105.32H638.69M635.84 102.47V108.17" fill="none" stroke="#ff0000" stroke-width="0.8623999999999999"/>
<path d="M639.77 105.32H645.47M642.62 102.47V108.17" fill="none" stroke="#ff0000" stroke-width="0.8623999999999999"/>
<path d="M646.55 105.32H652.25M649.40 102.47V108.17" fill="none" stroke="#ff0000" stroke-width="0.8623999999999999"/>
<path d="M653.33 105.32H659.03M656.18 102.47V108.17" fill="none" stroke="#ff0000" stroke-width="0.8623999999999999"/>
<path d="M384.98 171.40H656.18" stroke="#00ffff" stroke-width="0.95" stroke-dasharray="3.5 3.6" fill="none"/>
<path d="M381.63 170.01L388.33 170.01L384.98 175.81Z" fill="none" stroke="#00ffff" stroke-width="0.98"/>
<path d="M388.41 170.01L395.11 170.01L391.76 175.81Z" fill="none" stroke="#00ffff" stroke-width="0.98"/>
<path d="M395.19 170.01L401.89 170.01L398.54 175.81Z" fill="none" stroke="#00ffff" stroke-width="0.98"/>
<path d="M401.97 170.01L408.67 170.01L405.32 175.81Z" fill="none" stroke="#00ffff" stroke-width="0.98"/>
<path d="M408.75 170.01L415.45 170.01L412.10 175.81Z" fill="none" stroke="#00ffff" stroke-width="0.98"/>
<path d="M415.53 170.01L422.23 170.01L418.88 175.81Z" fill="none" stroke="#00ffff" stroke-width="0.98"/>
<path d="M422.31 170.01L429.01 170.01L425.66 175.81Z" fill="none" stroke="#00ffff" stroke-width="0.98"/>
<path d="M429.09 170.01L435.79 170.01L432.44 175.81Z" fill="none" stroke="#00ffff" stroke-width="0.98"/>
<path d="M435.87 170.01L442.57 170.01L439.22 175.81Z" fill="none" stroke="#00ffff" stroke-width="0.98"/>
<path d="M442.65 170.01L449.35 170.01L446.00 175.81Z" fill="none" stroke="#00ffff" stroke-width="0.98"/>
<path d="M449.43 170.01L456.13 170.01L452.78 175.81Z" fill="none" stroke="#00ffff" stroke-width="0.98"/>
<path d="M456.21 170.01L462.91 170.01L459.56 175.81Z" fill="none" stroke="#00ffff" stroke-width="0.98"/>
<path d="M462.99 170.01L469.69 170.01L466.34 175.81Z" fill="none" stroke="#00ffff" stroke-width="0.98"/>
<path d="M469.77 170.01L476.47 170.01L473.12 175.81Z" fill="none" stroke="#00ffff" stroke-width="0.98"/>
<path d="M476.55 170.01L483.25 170.01L479.90 175.81Z" fill="none" stroke="#00ffff" stroke-width="0.98"/>
<path d="M483.33 170.01L490.03 170.01L486.68 175.81Z" fill="none" stroke="#00ffff" stroke-width="0.98"/>
<path d="M490.11 170.01L496.81 170.01L493.46 175.81Z" fill="none" stroke="#00ffff" stroke-width="0.98"/>
<path d="M496.89 170.01L503.59 170.01L500.24 175.81Z" fill="none" stroke="#00ffff" stroke-width="0.98"/>
<path d="M503.67 170.01L510.37 170.01L507.02 175.81Z" fill="none" stroke="#00ffff" stroke-width="0.98"/>
<path d="M510.45 170.01L517.15 170.01L513.80 175.81Z" fill="none" stroke="#00ffff" stroke-width="0.98"/>
<path d="M517.23 170.01L523.93 170.01L520.58 175.81Z" fill="none" stroke="#00ffff" stroke-width="0.98"/>
<path d="M524.01 170.01L530.71 170.01L527.36 175.81Z" fill="none" stroke="#00ffff" stroke-width="0.98"/>
<path d="M530.79 170.01L537.49 170.01L534.14 175.81Z" fill="none" stroke="#00ffff" stroke-width="0.98"/>
<path d="M537.57 170.01L544.27 170.01L540.92 175.81Z" fill="none" stroke="#00ffff" stroke-width="0.98"/>
<path d="M544.35 170.01L551.05 170.01L547.70 175.81Z" fill="none" stroke="#00ffff" stroke-width="0.98"/>
<path d="M551.13 170.01L557.83 170.01L554.48 175.81Z" fill="none" stroke="#00ffff" stroke-width="0.98"/>
<path d="M557.91 170.01L564.61 170.01L561.26 175.81Z" fill="none" stroke="#00ffff" stroke-width="0.98"/>
<path d="M564.69 170.01L571.39 170.01L568.04 175.81Z" fill="none" stroke="#00ffff" stroke-width="0.98"/>
<path d="M571.47 170.01L578.17 170.01L574.82 175.81Z" fill="none" stroke="#00ffff" stroke-width="0.98"/>
<path d="M578.25 170.01L584.95 170.01L581.60 175.81Z" fill="none" stroke="#00ffff" stroke-width="0.98"/>
<path d="M585.03 170.01L591.73 170.01L588.38 175.81Z" fill="none" stroke="#00ffff" stroke-width="0.98"/>
<path d="M591.81 170.01L598.51 170.01L595.16 175.81Z" fill="none" stroke="#00ffff" stroke-width="0.98"/>
<path d="M598.59 170.01L605.29 170.01L601.94 175.81Z" fill="none" stroke="#00ffff" stroke-width="0.98"/>
<path d="M605.37 170.01L612.07 170.01L608.72 175.81Z" fill="none" stroke="#00ffff" stroke-width="0.98"/>
<path d="M612.15 170.01L618.85 170.01L615.50 175.81Z" fill="none" stroke="#00ffff" stroke-width="0.98"/>
<path d="M618.93 170.01L625.63 170.01L622.28 175.81Z" fill="none" stroke="#00ffff" stroke-width="0.98"/>
<path d="M625.71 170.01L632.41 170.01L629.06 175.81Z" fill="none" stroke="#00ffff" stroke-width="0.98"/>
<path d="M632.49 170.01L639.19 170.01L635.84 175.81Z" fill="none" stroke="#00ffff" stroke-width="0.98"/>
<path d="M639.27 170.01L645.97 170.01L642.62 175.81Z" fill="none" stroke="#00ffff" stroke-width="0.98"/>
<path d="M646.05 170.01L652.75 170.01L649.40 175.81Z" fill="none" stroke="#00ffff" stroke-width="0.98"/>
<path d="M652.83 170.01L659.53 170.01L656.18 175.81Z" fill="none" stroke="#00ffff" stroke-width="0.98"/>
<rect x="594.5" y="20.2" width="81.2" height="71.8" fill="#fff" stroke="#555" stroke-width="0.95"/>
<path d="M597.20 27.20H625.00" stroke="#ffff00" stroke-width="0.85" fill="none"/>
<path d="M608.90 23.50L615.20 27.20L608.90 30.90Z" fill="none" stroke="#ffff00" stroke-width="0.85"/>
<text transform="translate(627.40 30.20) scale(0.965 1)" font-size="8.6" text-anchor="start" fill="#000">HCOA</text>
<path d="M597.20 38.83H625.00" stroke="#000000" stroke-width="0.85" fill="none"/>
<path d="M608.30 38.83L611.00 34.83L613.70 38.83L611.00 42.83Z" fill="none" stroke="#000000" stroke-width="0.901"/>
<text transform="translate(627.40 41.83) scale(0.965 1)" font-size="8.6" text-anchor="start" fill="#000">BBPSO</text>
<path d="M597.20 50.46H625.00" stroke="#00ff00" stroke-width="0.85" fill="none"/>
<circle cx="611.00" cy="50.46" r="2.80" fill="none" stroke="#00ff00" stroke-width="0.85"/>
<text transform="translate(627.40 53.46) scale(0.965 1)" font-size="8.6" text-anchor="start" fill="#000">PBBPSO</text>
<path d="M597.20 62.09H625.00" stroke="#0000ff" stroke-width="0.85" fill="none"/>
<path d="M608.50 62.09H613.50M611.00 58.89V65.29M609.00 60.09L613.00 64.09M609.00 64.09L613.00 60.09" fill="none" stroke="#0000ff" stroke-width="0.78"/>
<text transform="translate(627.40 65.09) scale(0.965 1)" font-size="8.6" text-anchor="start" fill="#000">DLSBBPSO</text>
<path d="M597.20 73.72H625.00" stroke="#ff0000" stroke-width="0.85" stroke-dasharray="3.5 3.6" fill="none"/>
<path d="M608.15 73.72H613.85M611.00 70.87V76.57" fill="none" stroke="#ff0000" stroke-width="0.748"/>
<text transform="translate(627.40 76.72) scale(0.965 1)" font-size="8.6" text-anchor="start" fill="#000">TBBPSO</text>
<path d="M597.20 85.35H625.00" stroke="#00ffff" stroke-width="0.85" stroke-dasharray="3.5 3.6" fill="none"/>
<path d="M607.65 83.96L614.35 83.96L611.00 89.76Z" fill="none" stroke="#00ffff" stroke-width="0.85"/>
<text transform="translate(627.40 88.35) scale(0.965 1)" font-size="8.6" text-anchor="start" fill="#000">ETBBPSO</text>
</svg>
</body></html>
